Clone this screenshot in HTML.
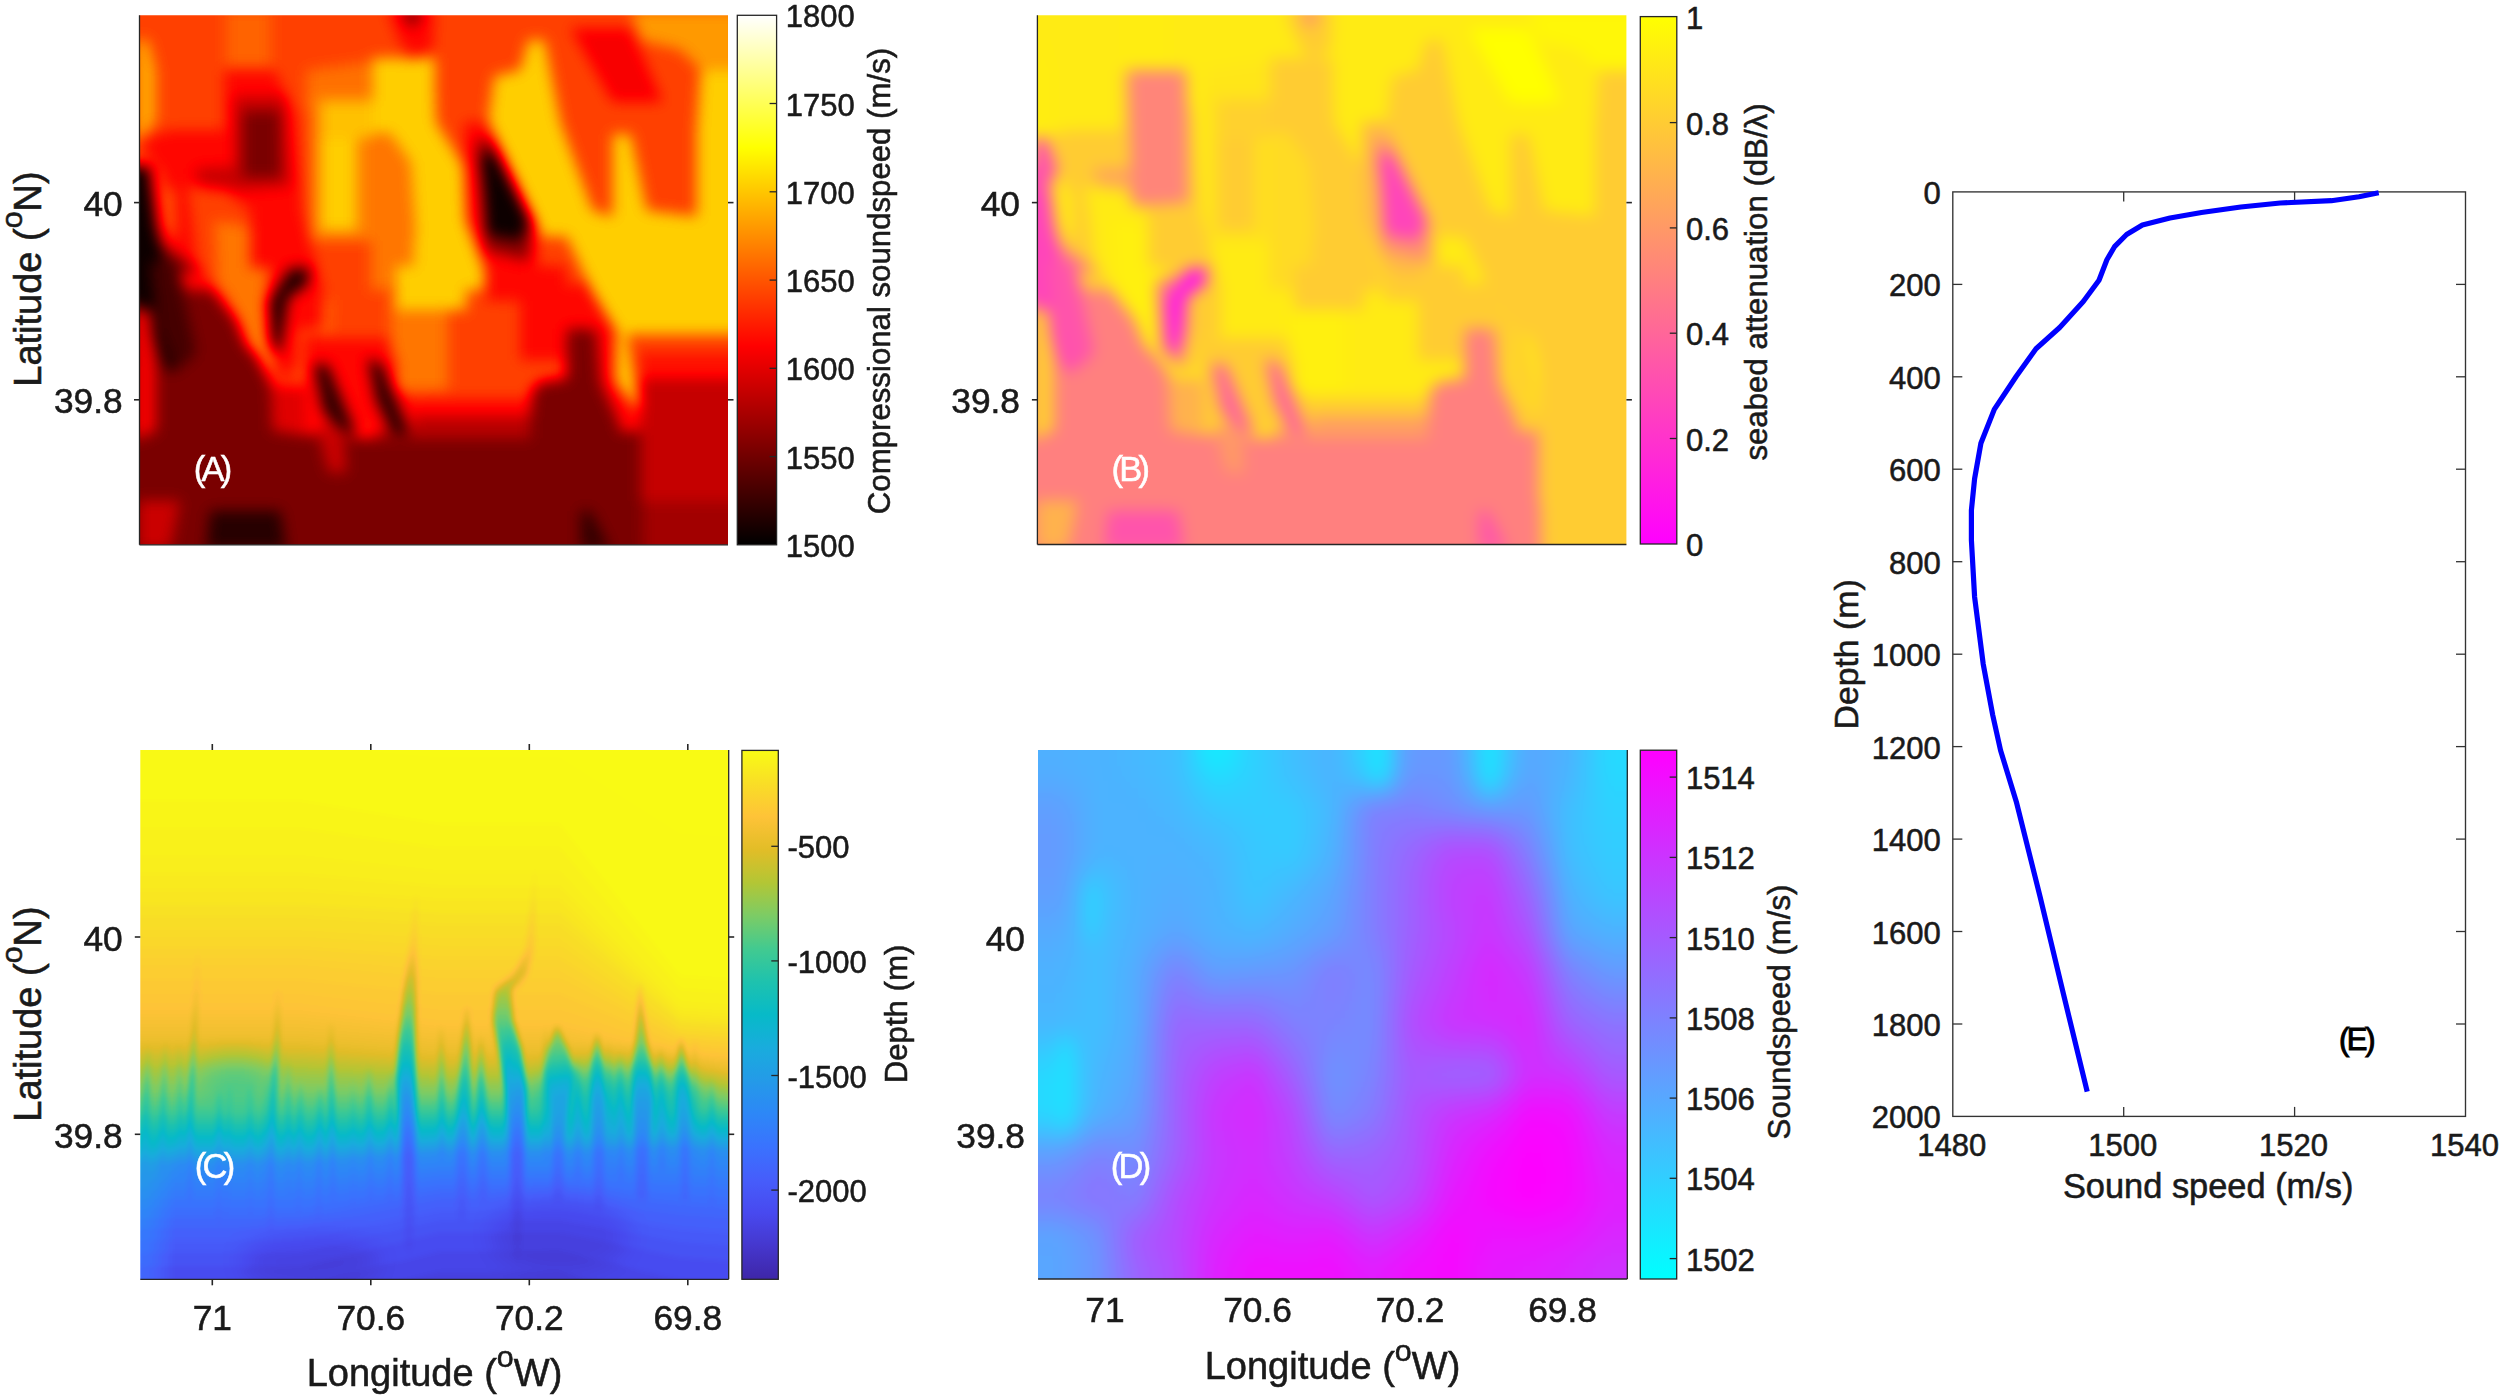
<!DOCTYPE html><html><head><meta charset="utf-8"><title>Figure</title>
<style>html,body{margin:0;padding:0;background:#fff;overflow:hidden}svg{display:block}text{font-family:"Liberation Sans", sans-serif}</style></head><body>
<svg width="2500" height="1396" viewBox="0 0 2500 1396">
<defs><filter id="fA" x="-5%" y="-5%" width="110%" height="110%" color-interpolation-filters="sRGB"><feGaussianBlur stdDeviation="7"/><feComponentTransfer><feFuncR type="table" tableValues="0.0000 0.3333 0.6667 1.0000 1.0000 1.0000 1.0000 1.0000 1.0000"/><feFuncG type="table" tableValues="0.0000 0.0000 0.0000 0.0000 0.3333 0.6667 1.0000 1.0000 1.0000"/><feFuncB type="table" tableValues="0.0000 0.0000 0.0000 0.0000 0.0000 0.0000 0.0000 0.5000 1.0000"/></feComponentTransfer></filter><filter id="fB" x="-5%" y="-5%" width="110%" height="110%" color-interpolation-filters="sRGB"><feGaussianBlur stdDeviation="7.5"/><feComponentTransfer><feFuncR type="table" tableValues="1 1"/><feFuncG type="table" tableValues="0 1"/><feFuncB type="table" tableValues="1 0"/></feComponentTransfer></filter><filter id="fC" x="-5%" y="-5%" width="110%" height="110%" color-interpolation-filters="sRGB"><feGaussianBlur stdDeviation="2.5"/><feComponentTransfer><feFuncR type="table" tableValues="0.2422 0.2691 0.2810 0.2755 0.2266 0.1780 0.1407 0.0964 0.0265 0.1170 0.2586 0.4859 0.7012 0.8877 0.9970 0.9763 0.9769"/><feFuncG type="table" tableValues="0.1504 0.2157 0.2871 0.3660 0.4471 0.5290 0.6023 0.6750 0.7290 0.7612 0.7917 0.8011 0.7747 0.7402 0.7659 0.8700 0.9839"/><feFuncB type="table" tableValues="0.6603 0.8050 0.9358 0.9829 0.9958 0.9682 0.9106 0.8648 0.7860 0.6820 0.5648 0.3966 0.2083 0.1544 0.2199 0.1503 0.0805"/></feComponentTransfer></filter><filter id="fD" x="-5%" y="-5%" width="110%" height="110%" color-interpolation-filters="sRGB"><feGaussianBlur stdDeviation="8 11"/><feComponentTransfer><feFuncR type="table" tableValues="0 1"/><feFuncG type="table" tableValues="1 0"/><feFuncB type="table" tableValues="1 1"/></feComponentTransfer></filter><linearGradient id="gA" x1="0" y1="1" x2="0" y2="0"><stop offset="0.0000" stop-color="#000000"/><stop offset="0.1250" stop-color="#550000"/><stop offset="0.2500" stop-color="#aa0000"/><stop offset="0.3750" stop-color="#ff0000"/><stop offset="0.5000" stop-color="#ff5500"/><stop offset="0.6250" stop-color="#ffaa00"/><stop offset="0.7500" stop-color="#ffff00"/><stop offset="0.8750" stop-color="#ffff80"/><stop offset="1.0000" stop-color="#ffffff"/></linearGradient><linearGradient id="gB" x1="0" y1="1" x2="0" y2="0"><stop offset="0.0000" stop-color="#ff00ff"/><stop offset="1.0000" stop-color="#ffff00"/></linearGradient><linearGradient id="gC" x1="0" y1="1" x2="0" y2="0"><stop offset="0.0000" stop-color="#3e26a8"/><stop offset="0.0625" stop-color="#4537cd"/><stop offset="0.1250" stop-color="#4849ef"/><stop offset="0.1875" stop-color="#465dfb"/><stop offset="0.2500" stop-color="#3a72fe"/><stop offset="0.3125" stop-color="#2d87f7"/><stop offset="0.3750" stop-color="#249ae8"/><stop offset="0.4375" stop-color="#19acdd"/><stop offset="0.5000" stop-color="#07bac8"/><stop offset="0.5625" stop-color="#1ec2ae"/><stop offset="0.6250" stop-color="#42ca90"/><stop offset="0.6875" stop-color="#7ccc65"/><stop offset="0.7500" stop-color="#b3c635"/><stop offset="0.8125" stop-color="#e2bd27"/><stop offset="0.8750" stop-color="#fec338"/><stop offset="0.9375" stop-color="#f9de26"/><stop offset="1.0000" stop-color="#f9fb15"/></linearGradient><linearGradient id="gD" x1="0" y1="1" x2="0" y2="0"><stop offset="0.0000" stop-color="#00ffff"/><stop offset="1.0000" stop-color="#ff00ff"/></linearGradient><clipPath id="clA"><rect x="139.5" y="15.3" width="588.5" height="529.5"/></clipPath><clipPath id="clB"><rect x="1037.4" y="15.3" width="589.0" height="529.2"/></clipPath><clipPath id="clC"><rect x="140.3" y="750.0" width="588.4" height="529.3"/></clipPath><clipPath id="clD"><rect x="1038.1" y="750.0" width="589.2" height="529.0"/></clipPath><linearGradient id="cgrad" gradientUnits="userSpaceOnUse" x1="0" y1="880" x2="0" y2="1280"><stop offset="0" stop-opacity="0.02"/><stop offset="0.175" stop-opacity="0.06"/><stop offset="0.30" stop-opacity="0.22"/><stop offset="0.425" stop-opacity="0.40"/><stop offset="0.5375" stop-opacity="0.50"/><stop offset="0.65" stop-opacity="0.50"/><stop offset="0.80" stop-opacity="0.28"/><stop offset="1" stop-opacity="0.05"/></linearGradient><filter id="bl12" x="-30%" y="-30%" width="160%" height="160%"><feGaussianBlur stdDeviation="12"/></filter><filter id="bl5" x="-30%" y="-30%" width="160%" height="160%"><feGaussianBlur stdDeviation="5"/></filter><filter id="bl2" x="-60%" y="-10%" width="220%" height="120%"><feGaussianBlur stdDeviation="1.6 3"/></filter><linearGradient id="dg0"><stop offset="0.0333" stop-color="#4f4f4f"/><stop offset="0.1000" stop-color="#4c4c4c"/><stop offset="0.1667" stop-color="#474747"/><stop offset="0.2333" stop-color="#404040"/><stop offset="0.3000" stop-color="#1f1f1f"/><stop offset="0.3667" stop-color="#2e2e2e"/><stop offset="0.4333" stop-color="#404040"/><stop offset="0.5000" stop-color="#4c4c4c"/><stop offset="0.5667" stop-color="#262626"/><stop offset="0.6333" stop-color="#666666"/><stop offset="0.7000" stop-color="#666666"/><stop offset="0.7667" stop-color="#262626"/><stop offset="0.8333" stop-color="#595959"/><stop offset="0.9000" stop-color="#4c4c4c"/><stop offset="0.9667" stop-color="#262626"/></linearGradient><linearGradient id="dg1"><stop offset="0.0333" stop-color="#525252"/><stop offset="0.1000" stop-color="#4c4c4c"/><stop offset="0.1667" stop-color="#484848"/><stop offset="0.2333" stop-color="#414141"/><stop offset="0.3000" stop-color="#232323"/><stop offset="0.3667" stop-color="#2f2f2f"/><stop offset="0.4333" stop-color="#3e3e3e"/><stop offset="0.5000" stop-color="#4c4c4c"/><stop offset="0.5667" stop-color="#343434"/><stop offset="0.6333" stop-color="#6a6a6a"/><stop offset="0.7000" stop-color="#686868"/><stop offset="0.7667" stop-color="#303030"/><stop offset="0.8333" stop-color="#5b5b5b"/><stop offset="0.9000" stop-color="#4a4a4a"/><stop offset="0.9667" stop-color="#272727"/></linearGradient><linearGradient id="dg2"><stop offset="0.0333" stop-color="#5a5a5a"/><stop offset="0.1000" stop-color="#4c4c4c"/><stop offset="0.1667" stop-color="#4a4a4a"/><stop offset="0.2333" stop-color="#444444"/><stop offset="0.3000" stop-color="#2e2e2e"/><stop offset="0.3667" stop-color="#313131"/><stop offset="0.4333" stop-color="#383838"/><stop offset="0.5000" stop-color="#4a4a4a"/><stop offset="0.5667" stop-color="#5b5b5b"/><stop offset="0.6333" stop-color="#757575"/><stop offset="0.7000" stop-color="#6d6d6d"/><stop offset="0.7667" stop-color="#4c4c4c"/><stop offset="0.8333" stop-color="#616161"/><stop offset="0.9000" stop-color="#454545"/><stop offset="0.9667" stop-color="#2b2b2b"/></linearGradient><linearGradient id="dg3"><stop offset="0.0333" stop-color="#616161"/><stop offset="0.1000" stop-color="#4c4c4c"/><stop offset="0.1667" stop-color="#4c4c4c"/><stop offset="0.2333" stop-color="#474747"/><stop offset="0.3000" stop-color="#383838"/><stop offset="0.3667" stop-color="#333333"/><stop offset="0.4333" stop-color="#333333"/><stop offset="0.5000" stop-color="#474747"/><stop offset="0.5667" stop-color="#808080"/><stop offset="0.6333" stop-color="#808080"/><stop offset="0.7000" stop-color="#747474"/><stop offset="0.7667" stop-color="#676767"/><stop offset="0.8333" stop-color="#666666"/><stop offset="0.9000" stop-color="#404040"/><stop offset="0.9667" stop-color="#2e2e2e"/></linearGradient><linearGradient id="dg4"><stop offset="0.0333" stop-color="#636363"/><stop offset="0.1000" stop-color="#4c4c4c"/><stop offset="0.1667" stop-color="#4c4c4c"/><stop offset="0.2333" stop-color="#4a4a4a"/><stop offset="0.3000" stop-color="#3f3f3f"/><stop offset="0.3667" stop-color="#353535"/><stop offset="0.4333" stop-color="#333333"/><stop offset="0.5000" stop-color="#4a4a4a"/><stop offset="0.5667" stop-color="#808080"/><stop offset="0.6333" stop-color="#8b8b8b"/><stop offset="0.7000" stop-color="#929292"/><stop offset="0.7667" stop-color="#8b8b8b"/><stop offset="0.8333" stop-color="#717171"/><stop offset="0.9000" stop-color="#404040"/><stop offset="0.9667" stop-color="#303030"/></linearGradient><linearGradient id="dg5"><stop offset="0.0333" stop-color="#656565"/><stop offset="0.1000" stop-color="#4c4c4c"/><stop offset="0.1667" stop-color="#4c4c4c"/><stop offset="0.2333" stop-color="#4c4c4c"/><stop offset="0.3000" stop-color="#464646"/><stop offset="0.3667" stop-color="#373737"/><stop offset="0.4333" stop-color="#333333"/><stop offset="0.5000" stop-color="#4c4c4c"/><stop offset="0.5667" stop-color="#808080"/><stop offset="0.6333" stop-color="#969696"/><stop offset="0.7000" stop-color="#afafaf"/><stop offset="0.7667" stop-color="#aeaeae"/><stop offset="0.8333" stop-color="#7c7c7c"/><stop offset="0.9000" stop-color="#404040"/><stop offset="0.9667" stop-color="#323232"/></linearGradient><linearGradient id="dg6"><stop offset="0.0333" stop-color="#646464"/><stop offset="0.1000" stop-color="#464646"/><stop offset="0.1667" stop-color="#4c4c4c"/><stop offset="0.2333" stop-color="#4e4e4e"/><stop offset="0.3000" stop-color="#494949"/><stop offset="0.3667" stop-color="#383838"/><stop offset="0.4333" stop-color="#393939"/><stop offset="0.5000" stop-color="#505050"/><stop offset="0.5667" stop-color="#808080"/><stop offset="0.6333" stop-color="#9b9b9b"/><stop offset="0.7000" stop-color="#bababa"/><stop offset="0.7667" stop-color="#bcbcbc"/><stop offset="0.8333" stop-color="#878787"/><stop offset="0.9000" stop-color="#444444"/><stop offset="0.9667" stop-color="#353535"/></linearGradient><linearGradient id="dg7"><stop offset="0.0333" stop-color="#626262"/><stop offset="0.1000" stop-color="#3d3d3d"/><stop offset="0.1667" stop-color="#4c4c4c"/><stop offset="0.2333" stop-color="#505050"/><stop offset="0.3000" stop-color="#4b4b4b"/><stop offset="0.3667" stop-color="#383838"/><stop offset="0.4333" stop-color="#424242"/><stop offset="0.5000" stop-color="#565656"/><stop offset="0.5667" stop-color="#808080"/><stop offset="0.6333" stop-color="#9d9d9d"/><stop offset="0.7000" stop-color="#bdbdbd"/><stop offset="0.7667" stop-color="#c3c3c3"/><stop offset="0.8333" stop-color="#939393"/><stop offset="0.9000" stop-color="#494949"/><stop offset="0.9667" stop-color="#373737"/></linearGradient><linearGradient id="dg8"><stop offset="0.0333" stop-color="#5f5f5f"/><stop offset="0.1000" stop-color="#393939"/><stop offset="0.1667" stop-color="#4c4c4c"/><stop offset="0.2333" stop-color="#535353"/><stop offset="0.3000" stop-color="#4c4c4c"/><stop offset="0.3667" stop-color="#3b3b3b"/><stop offset="0.4333" stop-color="#4a4a4a"/><stop offset="0.5000" stop-color="#5b5b5b"/><stop offset="0.5667" stop-color="#808080"/><stop offset="0.6333" stop-color="#9e9e9e"/><stop offset="0.7000" stop-color="#bebebe"/><stop offset="0.7667" stop-color="#c8c8c8"/><stop offset="0.8333" stop-color="#9d9d9d"/><stop offset="0.9000" stop-color="#4f4f4f"/><stop offset="0.9667" stop-color="#3c3c3c"/></linearGradient><linearGradient id="dg9"><stop offset="0.0333" stop-color="#595959"/><stop offset="0.1000" stop-color="#3d3d3d"/><stop offset="0.1667" stop-color="#4c4c4c"/><stop offset="0.2333" stop-color="#565656"/><stop offset="0.3000" stop-color="#4c4c4c"/><stop offset="0.3667" stop-color="#424242"/><stop offset="0.4333" stop-color="#4f4f4f"/><stop offset="0.5000" stop-color="#5e5e5e"/><stop offset="0.5667" stop-color="#808080"/><stop offset="0.6333" stop-color="#9e9e9e"/><stop offset="0.7000" stop-color="#bbbbbb"/><stop offset="0.7667" stop-color="#cacaca"/><stop offset="0.8333" stop-color="#a6a6a6"/><stop offset="0.9000" stop-color="#545454"/><stop offset="0.9667" stop-color="#454545"/></linearGradient><linearGradient id="dg10"><stop offset="0.0333" stop-color="#545454"/><stop offset="0.1000" stop-color="#404040"/><stop offset="0.1667" stop-color="#4d4d4d"/><stop offset="0.2333" stop-color="#5b5b5b"/><stop offset="0.3000" stop-color="#4e4e4e"/><stop offset="0.3667" stop-color="#494949"/><stop offset="0.4333" stop-color="#555555"/><stop offset="0.5000" stop-color="#636363"/><stop offset="0.5667" stop-color="#7f7f7f"/><stop offset="0.6333" stop-color="#9f9f9f"/><stop offset="0.7000" stop-color="#b8b8b8"/><stop offset="0.7667" stop-color="#cdcdcd"/><stop offset="0.8333" stop-color="#afafaf"/><stop offset="0.9000" stop-color="#5b5b5b"/><stop offset="0.9667" stop-color="#4e4e4e"/></linearGradient><linearGradient id="dg11"><stop offset="0.0333" stop-color="#505050"/><stop offset="0.1000" stop-color="#404040"/><stop offset="0.1667" stop-color="#505050"/><stop offset="0.2333" stop-color="#6c6c6c"/><stop offset="0.3000" stop-color="#565656"/><stop offset="0.3667" stop-color="#565656"/><stop offset="0.4333" stop-color="#5f5f5f"/><stop offset="0.5000" stop-color="#727272"/><stop offset="0.5667" stop-color="#797979"/><stop offset="0.6333" stop-color="#a2a2a2"/><stop offset="0.7000" stop-color="#bbbbbb"/><stop offset="0.7667" stop-color="#d2d2d2"/><stop offset="0.8333" stop-color="#bababa"/><stop offset="0.9000" stop-color="#6c6c6c"/><stop offset="0.9667" stop-color="#595959"/></linearGradient><linearGradient id="dg12"><stop offset="0.0333" stop-color="#4d4d4d"/><stop offset="0.1000" stop-color="#404040"/><stop offset="0.1667" stop-color="#535353"/><stop offset="0.2333" stop-color="#7c7c7c"/><stop offset="0.3000" stop-color="#5f5f5f"/><stop offset="0.3667" stop-color="#636363"/><stop offset="0.4333" stop-color="#696969"/><stop offset="0.5000" stop-color="#818181"/><stop offset="0.5667" stop-color="#747474"/><stop offset="0.6333" stop-color="#a5a5a5"/><stop offset="0.7000" stop-color="#bfbfbf"/><stop offset="0.7667" stop-color="#d8d8d8"/><stop offset="0.8333" stop-color="#c5c5c5"/><stop offset="0.9000" stop-color="#7c7c7c"/><stop offset="0.9667" stop-color="#646464"/></linearGradient><linearGradient id="dg13"><stop offset="0.0333" stop-color="#4b4b4b"/><stop offset="0.1000" stop-color="#404040"/><stop offset="0.1667" stop-color="#545454"/><stop offset="0.2333" stop-color="#878787"/><stop offset="0.3000" stop-color="#707070"/><stop offset="0.3667" stop-color="#747474"/><stop offset="0.4333" stop-color="#717171"/><stop offset="0.5000" stop-color="#828282"/><stop offset="0.5667" stop-color="#737373"/><stop offset="0.6333" stop-color="#a9a9a9"/><stop offset="0.7000" stop-color="#c3c3c3"/><stop offset="0.7667" stop-color="#d7d7d7"/><stop offset="0.8333" stop-color="#cccccc"/><stop offset="0.9000" stop-color="#888888"/><stop offset="0.9667" stop-color="#717171"/></linearGradient><linearGradient id="dg14"><stop offset="0.0333" stop-color="#494949"/><stop offset="0.1000" stop-color="#404040"/><stop offset="0.1667" stop-color="#545454"/><stop offset="0.2333" stop-color="#8f8f8f"/><stop offset="0.3000" stop-color="#848484"/><stop offset="0.3667" stop-color="#868686"/><stop offset="0.4333" stop-color="#787878"/><stop offset="0.5000" stop-color="#7e7e7e"/><stop offset="0.5667" stop-color="#737373"/><stop offset="0.6333" stop-color="#aeaeae"/><stop offset="0.7000" stop-color="#c7c7c7"/><stop offset="0.7667" stop-color="#d4d4d4"/><stop offset="0.8333" stop-color="#d2d2d2"/><stop offset="0.9000" stop-color="#939393"/><stop offset="0.9667" stop-color="#7e7e7e"/></linearGradient><linearGradient id="dg15"><stop offset="0.0333" stop-color="#484848"/><stop offset="0.1000" stop-color="#404040"/><stop offset="0.1667" stop-color="#545454"/><stop offset="0.2333" stop-color="#989898"/><stop offset="0.3000" stop-color="#979797"/><stop offset="0.3667" stop-color="#979797"/><stop offset="0.4333" stop-color="#7f7f7f"/><stop offset="0.5000" stop-color="#7b7b7b"/><stop offset="0.5667" stop-color="#737373"/><stop offset="0.6333" stop-color="#b2b2b2"/><stop offset="0.7000" stop-color="#cccccc"/><stop offset="0.7667" stop-color="#d1d1d1"/><stop offset="0.8333" stop-color="#d8d8d8"/><stop offset="0.9000" stop-color="#9d9d9d"/><stop offset="0.9667" stop-color="#8b8b8b"/></linearGradient><linearGradient id="dg16"><stop offset="0.0333" stop-color="#3d3d3d"/><stop offset="0.1000" stop-color="#424242"/><stop offset="0.1667" stop-color="#565656"/><stop offset="0.2333" stop-color="#9b9b9b"/><stop offset="0.3000" stop-color="#a5a5a5"/><stop offset="0.3667" stop-color="#a9a9a9"/><stop offset="0.4333" stop-color="#898989"/><stop offset="0.5000" stop-color="#767676"/><stop offset="0.5667" stop-color="#757575"/><stop offset="0.6333" stop-color="#aeaeae"/><stop offset="0.7000" stop-color="#bcbcbc"/><stop offset="0.7667" stop-color="#bfbfbf"/><stop offset="0.8333" stop-color="#d6d6d6"/><stop offset="0.9000" stop-color="#adadad"/><stop offset="0.9667" stop-color="#949494"/></linearGradient><linearGradient id="dg17"><stop offset="0.0333" stop-color="#313131"/><stop offset="0.1000" stop-color="#454545"/><stop offset="0.1667" stop-color="#585858"/><stop offset="0.2333" stop-color="#9c9c9c"/><stop offset="0.3000" stop-color="#b3b3b3"/><stop offset="0.3667" stop-color="#bbbbbb"/><stop offset="0.4333" stop-color="#949494"/><stop offset="0.5000" stop-color="#707070"/><stop offset="0.5667" stop-color="#787878"/><stop offset="0.6333" stop-color="#aaaaaa"/><stop offset="0.7000" stop-color="#aaaaaa"/><stop offset="0.7667" stop-color="#ababab"/><stop offset="0.8333" stop-color="#d4d4d4"/><stop offset="0.9000" stop-color="#bdbdbd"/><stop offset="0.9667" stop-color="#9d9d9d"/></linearGradient><linearGradient id="dg18"><stop offset="0.0333" stop-color="#262626"/><stop offset="0.1000" stop-color="#484848"/><stop offset="0.1667" stop-color="#595959"/><stop offset="0.2333" stop-color="#9e9e9e"/><stop offset="0.3000" stop-color="#c0c0c0"/><stop offset="0.3667" stop-color="#cccccc"/><stop offset="0.4333" stop-color="#9f9f9f"/><stop offset="0.5000" stop-color="#6b6b6b"/><stop offset="0.5667" stop-color="#7b7b7b"/><stop offset="0.6333" stop-color="#a6a6a6"/><stop offset="0.7000" stop-color="#9b9b9b"/><stop offset="0.7667" stop-color="#9b9b9b"/><stop offset="0.8333" stop-color="#d2d2d2"/><stop offset="0.9000" stop-color="#cdcdcd"/><stop offset="0.9667" stop-color="#a7a7a7"/></linearGradient><linearGradient id="dg19"><stop offset="0.0333" stop-color="#262626"/><stop offset="0.1000" stop-color="#4a4a4a"/><stop offset="0.1667" stop-color="#5d5d5d"/><stop offset="0.2333" stop-color="#9e9e9e"/><stop offset="0.3000" stop-color="#c5c5c5"/><stop offset="0.3667" stop-color="#d2d2d2"/><stop offset="0.4333" stop-color="#aaaaaa"/><stop offset="0.5000" stop-color="#6f6f6f"/><stop offset="0.5667" stop-color="#7f7f7f"/><stop offset="0.6333" stop-color="#a9a9a9"/><stop offset="0.7000" stop-color="#b0b0b0"/><stop offset="0.7667" stop-color="#b6b6b6"/><stop offset="0.8333" stop-color="#e3e3e3"/><stop offset="0.9000" stop-color="#dedede"/><stop offset="0.9667" stop-color="#b5b5b5"/></linearGradient><linearGradient id="dg20"><stop offset="0.0333" stop-color="#262626"/><stop offset="0.1000" stop-color="#4c4c4c"/><stop offset="0.1667" stop-color="#606060"/><stop offset="0.2333" stop-color="#9e9e9e"/><stop offset="0.3000" stop-color="#cbcbcb"/><stop offset="0.3667" stop-color="#d7d7d7"/><stop offset="0.4333" stop-color="#b5b5b5"/><stop offset="0.5000" stop-color="#727272"/><stop offset="0.5667" stop-color="#838383"/><stop offset="0.6333" stop-color="#adadad"/><stop offset="0.7000" stop-color="#c6c6c6"/><stop offset="0.7667" stop-color="#d2d2d2"/><stop offset="0.8333" stop-color="#f3f3f3"/><stop offset="0.9000" stop-color="#eeeeee"/><stop offset="0.9667" stop-color="#c3c3c3"/></linearGradient><linearGradient id="dg21"><stop offset="0.0333" stop-color="#3b3b3b"/><stop offset="0.1000" stop-color="#5d5d5d"/><stop offset="0.1667" stop-color="#676767"/><stop offset="0.2333" stop-color="#9e9e9e"/><stop offset="0.3000" stop-color="#cacaca"/><stop offset="0.3667" stop-color="#d6d6d6"/><stop offset="0.4333" stop-color="#bababa"/><stop offset="0.5000" stop-color="#7f7f7f"/><stop offset="0.5667" stop-color="#8d8d8d"/><stop offset="0.6333" stop-color="#adadad"/><stop offset="0.7000" stop-color="#d0d0d0"/><stop offset="0.7667" stop-color="#e1e1e1"/><stop offset="0.8333" stop-color="#fafafa"/><stop offset="0.9000" stop-color="#f4f4f4"/><stop offset="0.9667" stop-color="#cdcdcd"/></linearGradient><linearGradient id="dg22"><stop offset="0.0333" stop-color="#575757"/><stop offset="0.1000" stop-color="#747474"/><stop offset="0.1667" stop-color="#6f6f6f"/><stop offset="0.2333" stop-color="#9e9e9e"/><stop offset="0.3000" stop-color="#c8c8c8"/><stop offset="0.3667" stop-color="#d3d3d3"/><stop offset="0.4333" stop-color="#bdbdbd"/><stop offset="0.5000" stop-color="#909090"/><stop offset="0.5667" stop-color="#989898"/><stop offset="0.6333" stop-color="#adadad"/><stop offset="0.7000" stop-color="#d6d6d6"/><stop offset="0.7667" stop-color="#ececec"/><stop offset="0.8333" stop-color="#fdfdfd"/><stop offset="0.9000" stop-color="#f6f6f6"/><stop offset="0.9667" stop-color="#d5d5d5"/></linearGradient><linearGradient id="dg23"><stop offset="0.0333" stop-color="#6b6b6b"/><stop offset="0.1000" stop-color="#828282"/><stop offset="0.1667" stop-color="#757575"/><stop offset="0.2333" stop-color="#a2a2a2"/><stop offset="0.3000" stop-color="#c8c8c8"/><stop offset="0.3667" stop-color="#d3d3d3"/><stop offset="0.4333" stop-color="#c2c2c2"/><stop offset="0.5000" stop-color="#a1a1a1"/><stop offset="0.5667" stop-color="#a0a0a0"/><stop offset="0.6333" stop-color="#afafaf"/><stop offset="0.7000" stop-color="#dbdbdb"/><stop offset="0.7667" stop-color="#f3f3f3"/><stop offset="0.8333" stop-color="#ffffff"/><stop offset="0.9000" stop-color="#f7f7f7"/><stop offset="0.9667" stop-color="#dadada"/></linearGradient><linearGradient id="dg24"><stop offset="0.0333" stop-color="#767676"/><stop offset="0.1000" stop-color="#888888"/><stop offset="0.1667" stop-color="#7b7b7b"/><stop offset="0.2333" stop-color="#ababab"/><stop offset="0.3000" stop-color="#cacaca"/><stop offset="0.3667" stop-color="#d6d6d6"/><stop offset="0.4333" stop-color="#c7c7c7"/><stop offset="0.5000" stop-color="#b1b1b1"/><stop offset="0.5667" stop-color="#a3a3a3"/><stop offset="0.6333" stop-color="#b4b4b4"/><stop offset="0.7000" stop-color="#e1e1e1"/><stop offset="0.7667" stop-color="#f5f5f5"/><stop offset="0.8333" stop-color="#ffffff"/><stop offset="0.9000" stop-color="#f7f7f7"/><stop offset="0.9667" stop-color="#dedede"/></linearGradient><linearGradient id="dg25"><stop offset="0.0333" stop-color="#7d7d7d"/><stop offset="0.1000" stop-color="#8a8a8a"/><stop offset="0.1667" stop-color="#828282"/><stop offset="0.2333" stop-color="#b3b3b3"/><stop offset="0.3000" stop-color="#cdcdcd"/><stop offset="0.3667" stop-color="#dadada"/><stop offset="0.4333" stop-color="#cdcdcd"/><stop offset="0.5000" stop-color="#c2c2c2"/><stop offset="0.5667" stop-color="#a8a8a8"/><stop offset="0.6333" stop-color="#bababa"/><stop offset="0.7000" stop-color="#e7e7e7"/><stop offset="0.7667" stop-color="#f7f7f7"/><stop offset="0.8333" stop-color="#fefefe"/><stop offset="0.9000" stop-color="#f6f6f6"/><stop offset="0.9667" stop-color="#e0e0e0"/></linearGradient><linearGradient id="dg26"><stop offset="0.0333" stop-color="#6d6d6d"/><stop offset="0.1000" stop-color="#7c7c7c"/><stop offset="0.1667" stop-color="#929292"/><stop offset="0.2333" stop-color="#b5b5b5"/><stop offset="0.3000" stop-color="#d2d2d2"/><stop offset="0.3667" stop-color="#dfdfdf"/><stop offset="0.4333" stop-color="#d6d6d6"/><stop offset="0.5000" stop-color="#d2d2d2"/><stop offset="0.5667" stop-color="#b9b9b9"/><stop offset="0.6333" stop-color="#cccccc"/><stop offset="0.7000" stop-color="#eeeeee"/><stop offset="0.7667" stop-color="#f1f1f1"/><stop offset="0.8333" stop-color="#f5f5f5"/><stop offset="0.9000" stop-color="#efefef"/><stop offset="0.9667" stop-color="#dddddd"/></linearGradient><linearGradient id="dg27"><stop offset="0.0333" stop-color="#5c5c5c"/><stop offset="0.1000" stop-color="#6e6e6e"/><stop offset="0.1667" stop-color="#a3a3a3"/><stop offset="0.2333" stop-color="#b7b7b7"/><stop offset="0.3000" stop-color="#d8d8d8"/><stop offset="0.3667" stop-color="#e5e5e5"/><stop offset="0.4333" stop-color="#dfdfdf"/><stop offset="0.5000" stop-color="#e3e3e3"/><stop offset="0.5667" stop-color="#c9c9c9"/><stop offset="0.6333" stop-color="#dddddd"/><stop offset="0.7000" stop-color="#f6f6f6"/><stop offset="0.7667" stop-color="#ececec"/><stop offset="0.8333" stop-color="#ececec"/><stop offset="0.9000" stop-color="#e7e7e7"/><stop offset="0.9667" stop-color="#d9d9d9"/></linearGradient><linearGradient id="dg28"><stop offset="0.0333" stop-color="#595959"/><stop offset="0.1000" stop-color="#6b6b6b"/><stop offset="0.1667" stop-color="#a1a1a1"/><stop offset="0.2333" stop-color="#b6b6b6"/><stop offset="0.3000" stop-color="#dcdcdc"/><stop offset="0.3667" stop-color="#ebebeb"/><stop offset="0.4333" stop-color="#e7e7e7"/><stop offset="0.5000" stop-color="#ebebeb"/><stop offset="0.5667" stop-color="#d6d6d6"/><stop offset="0.6333" stop-color="#e7e7e7"/><stop offset="0.7000" stop-color="#f7f7f7"/><stop offset="0.7667" stop-color="#e9e9e9"/><stop offset="0.8333" stop-color="#e7e7e7"/><stop offset="0.9000" stop-color="#e0e0e0"/><stop offset="0.9667" stop-color="#d4d4d4"/></linearGradient><linearGradient id="dg29"><stop offset="0.0333" stop-color="#595959"/><stop offset="0.1000" stop-color="#6b6b6b"/><stop offset="0.1667" stop-color="#9b9b9b"/><stop offset="0.2333" stop-color="#b3b3b3"/><stop offset="0.3000" stop-color="#dfdfdf"/><stop offset="0.3667" stop-color="#f1f1f1"/><stop offset="0.4333" stop-color="#f0f0f0"/><stop offset="0.5000" stop-color="#f1f1f1"/><stop offset="0.5667" stop-color="#e2e2e2"/><stop offset="0.6333" stop-color="#f0f0f0"/><stop offset="0.7000" stop-color="#f7f7f7"/><stop offset="0.7667" stop-color="#e6e6e6"/><stop offset="0.8333" stop-color="#e2e2e2"/><stop offset="0.9000" stop-color="#dadada"/><stop offset="0.9667" stop-color="#cecece"/></linearGradient></defs>
<rect width="2500" height="1396" fill="#fff"/><g fill="#1a1a1a">
<g clip-path="url(#clA)"><g filter="url(#fA)">
<rect x="99.5" y="-24.7" width="668.5" height="609.5" fill="#787878"/><polygon points="118.0,266.0 196.2,266.0 220.3,300.1 250.3,336.2 270.4,374.3 274.4,430.4 306.5,433.5 356.6,437.5 491.0,436.5 491.0,560.8 118.0,560.8" fill="#2e2e2e"/><polygon points="396.0,436.5 528.4,436.5 532.4,390.3 540.4,382.3 566.5,378.3 566.5,328.2 596.6,328.2 612.6,382.3 620.6,430.4 640.7,430.4 644.7,560.8 396.0,560.8" fill="#2e2e2e"/><polygon points="375.9,398.4 530.4,398.4 530.4,418.4 375.9,418.4" fill="#626262"/><polygon points="375.9,416.4 530.4,416.4 530.4,438.5 375.9,438.5" fill="#454545"/><polygon points="640.7,378.3 761.0,378.3 761.0,500.6 640.7,500.6" fill="#4a4a4a"/><polygon points="642.7,500.6 761.0,500.6 761.0,560.8 643.7,560.8" fill="#3d3d3d"/><polygon points="638.7,352.2 761.0,352.2 761.0,378.3 640.7,378.3" fill="#666666"/><polygon points="136.0,40.1 148.1,40.1 156.1,70.2 156.1,120.3 140.0,142.4 136.0,142.4" fill="#9e9e9e"/><polygon points="226.3,10.0 270.4,10.0 270.4,66.2 226.3,66.2" fill="#858585"/><polygon points="224.3,70.2 274.4,70.2 296.5,114.3 302.5,210.6 250.3,210.6 224.3,190.5" fill="#626262"/><polygon points="170.1,130.3 224.3,130.3 224.3,190.5 206.2,190.5 196.2,186.5 170.1,186.5" fill="#626262"/><polygon points="138.0,140.4 170.1,130.3 182.1,150.4 190.2,210.6 196.2,260.7 214.2,290.0 186.2,290.0 162.1,230.6 164.1,176.5" fill="#626262"/><polygon points="250.3,210.6 302.5,210.6 322.5,290.0 250.3,290.0" fill="#626262"/><polygon points="234.3,96.2 284.4,96.2 290.4,186.5 238.3,190.5 196.2,182.5 196.2,168.4 234.3,166.4" fill="#4a4a4a"/><polygon points="242.7,111.3 280.4,111.3 280.4,177.5 242.7,177.5" fill="#2e2e2e"/><polygon points="100.0,172.0 142.0,180.0 163.0,244.0 200.0,272.0 100.0,272.0" fill="#2e2e2e"/><polygon points="100.0,166.0 150.0,166.0 158.0,234.0 173.0,296.0 192.0,358.0 168.0,372.0 146.0,318.0 100.0,258.0" fill="#050505"/><polygon points="165.1,186.5 174.1,190.5 176.1,240.6 166.1,226.6" fill="#858585"/><polygon points="214.2,220.6 250.3,226.6 250.3,290.0 218.2,290.0" fill="#8c8c8c"/><polygon points="288.4,268.7 304.5,268.7 310.5,290.0 282.4,290.0" fill="#1f1f1f"/><polygon points="306.5,70.2 380.7,60.1 380.7,110.3 306.5,110.3" fill="#8a8a8a"/><polygon points="310.5,94.2 370.7,94.2 370.7,240.6 310.5,240.6" fill="#8f8f8f"/><polygon points="320.5,106.3 356.6,106.3 356.6,230.6 320.5,230.6" fill="#adadad"/><polygon points="320.9,101.3 380.7,101.3 380.7,138.4 320.9,138.4" fill="#a8a8a8"/><polygon points="372.7,58.1 434.9,58.1 434.9,122.3 458.9,162.4 466.9,230.6 480.0,260.7 480.0,290.0 410.8,290.0 414.8,230.6 410.8,162.4 390.7,134.3 372.7,130.3" fill="#adadad"/><polygon points="370.7,134.3 390.7,134.3 410.8,162.4 414.8,290.0 370.7,290.0" fill="#8c8c8c"/><polygon points="386.7,8.0 434.9,8.0 432.8,50.1 410.8,60.1 396.7,36.1" fill="#626262"/><polygon points="398.8,8.0 424.8,8.0 412.8,30.1" fill="#333333"/><polygon points="400.0,60.1 434.1,60.1 436.1,122.3 466.2,170.4 466.2,220.6 484.2,270.7 484.2,290.0 420.1,290.0 412.0,162.4 400.0,134.3" fill="#adadad"/><polygon points="464.2,122.3 488.2,122.3 536.4,226.6 538.4,280.8 488.2,270.7 466.2,220.6 464.2,170.4" fill="#616161"/><polygon points="476.2,140.4 492.3,140.4 532.4,222.6 528.4,260.7 486.2,250.7" fill="#333333"/><polygon points="480.2,154.4 494.3,154.4 528.4,220.6 520.3,240.6 486.2,234.6 484.2,190.5" fill="#050505"/><polygon points="494.3,76.2 520.3,70.2 528.4,40.1 544.4,40.1 560.4,122.3 592.5,210.6 612.6,216.6 612.6,134.3 630.6,134.3 646.7,210.6 696.8,216.6 696.8,130.3 700.8,70.2 728.9,66.2 741.0,66.2 741.0,300.8 596.6,300.8 566.5,236.6 540.4,236.6 538.4,226.6 488.2,122.3" fill="#adadad"/><polygon points="630.6,10.0 741.0,10.0 741.0,70.2 700.8,70.2 680.8,50.1 640.7,40.1" fill="#999999"/><polygon points="570.5,28.1 630.6,28.1 662.7,102.3 612.6,102.3" fill="#5d5d5d"/><polygon points="486.2,270.7 538.4,280.8 548.4,300.8 486.2,300.8" fill="#626262"/><polygon points="150.0,262.0 176.0,262.0 196.0,352.0 176.0,372.0 158.0,330.0" fill="#1a1a1a"/><polygon points="134.0,310.1 150.1,310.1 156.1,370.3 156.1,430.4 134.0,440.5" fill="#5c5c5c"/><polygon points="214.2,268.0 270.4,268.0 264.4,300.1 268.4,344.2 276.4,376.3 246.3,344.2 229.3,302.1" fill="#8c8c8c"/><polygon points="286.4,290.1 322.5,282.0 322.5,336.2 302.5,338.2 300.5,370.3 270.4,374.3 278.4,358.2 284.4,338.2" fill="#626262"/><polygon points="270.4,378.3 304.5,378.3 306.5,430.4 272.4,430.4" fill="#545454"/><polygon points="290.4,268.0 310.5,268.0 306.5,286.0 288.4,298.1 282.4,340.2 278.4,358.2 270.4,340.2 268.4,300.1 282.4,280.0" fill="#0d0d0d"/><polygon points="302.5,338.2 388.7,338.2 414.8,430.4 306.5,430.4" fill="#626262"/><polygon points="313.5,364.3 327.6,364.3 356.6,434.5 340.6,434.5 322.5,410.4" fill="#121212"/><polygon points="367.7,358.2 381.7,364.3 410.8,434.5 391.7,434.5 375.7,400.4" fill="#121212"/><polygon points="316.5,426.4 342.6,426.4 346.6,472.6 328.6,472.6" fill="#4c4c4c"/><polygon points="390.7,294.1 447.9,294.1 447.9,388.3 410.8,392.3 390.7,350.2" fill="#8c8c8c"/><polygon points="138.0,500.6 180.1,500.6 170.1,550.0 138.0,550.0" fill="#4c4c4c"/><polygon points="210.2,510.7 280.4,510.7 286.4,550.0 206.2,550.0" fill="#0f0f0f"/><polygon points="396.0,266.0 466.2,266.0 466.2,310.1 396.0,310.1" fill="#adadad"/><polygon points="396.0,310.1 446.1,310.1 446.1,390.3 396.0,390.3" fill="#8c8c8c"/><polygon points="520.3,266.0 566.5,266.0 566.5,360.3 520.3,360.3" fill="#626262"/><polygon points="566.5,286.0 586.5,282.0 614.6,330.2 610.6,378.3 624.6,398.4 640.7,414.4 640.7,430.4 620.6,426.4 600.6,382.3 596.6,330.2 566.5,326.2" fill="#626262"/><polygon points="586.5,266.0 761.0,266.0 761.0,334.2 618.6,334.2 600.6,306.1" fill="#adadad"/><polygon points="616.6,334.2 626.6,334.2 638.7,410.4 626.6,394.3 616.6,382.3" fill="#adadad"/><polygon points="580.5,510.7 590.5,510.7 610.6,550.0 580.5,550.0" fill="#141414"/><polyline fill="none" stroke="#9e9e9e" stroke-width="3" points="250.0,337.8 272.9,382.5 300.4,384.8 301.6,332.1 326.8,331.0 327.9,300.0"/>
</g></g>
<g clip-path="url(#clB)"><g filter="url(#fB)">
<rect x="997.4" y="-24.7" width="669.0" height="609.2" fill="#ebebeb"/><polygon points="1015.9,266.0 1094.1,266.0 1118.2,300.1 1148.2,336.2 1168.3,374.3 1172.3,430.4 1204.4,433.5 1254.5,437.5 1388.9,436.5 1388.9,560.8 1015.9,560.8" fill="#808080"/><polygon points="1293.9,436.5 1426.3,436.5 1430.3,390.3 1438.3,382.3 1464.4,378.3 1464.4,328.2 1494.5,328.2 1510.5,382.3 1518.5,430.4 1538.6,430.4 1542.6,560.8 1293.9,560.8" fill="#808080"/><polygon points="1273.8,398.4 1428.3,398.4 1428.3,418.4 1273.8,418.4" fill="#cccccc"/><polygon points="1273.8,416.4 1428.3,416.4 1428.3,438.5 1273.8,438.5" fill="#9e9e9e"/><polygon points="1538.6,378.3 1658.9,378.3 1658.9,500.6 1538.6,500.6" fill="#cccccc"/><polygon points="1540.6,500.6 1658.9,500.6 1658.9,560.8 1541.6,560.8" fill="#cccccc"/><polygon points="1536.6,352.2 1658.9,352.2 1658.9,378.3 1538.6,378.3" fill="#cccccc"/><polygon points="1033.9,40.1 1046.0,40.1 1054.0,70.2 1054.0,120.3 1037.9,142.4 1033.9,142.4" fill="#ededed"/><polygon points="1124.2,10.0 1168.3,10.0 1168.3,66.2 1124.2,66.2" fill="#ededed"/><polygon points="1122.2,70.2 1172.3,70.2 1194.4,114.3 1200.4,210.6 1148.2,210.6 1122.2,190.5" fill="#cccccc"/><polygon points="1068.0,130.3 1122.2,130.3 1122.2,190.5 1104.1,190.5 1094.1,186.5 1068.0,186.5" fill="#cccccc"/><polygon points="1035.9,140.4 1068.0,130.3 1080.0,150.4 1088.1,210.6 1094.1,260.7 1112.1,290.0 1084.1,290.0 1060.0,230.6 1062.0,176.5" fill="#cccccc"/><polygon points="1148.2,210.6 1200.4,210.6 1220.4,290.0 1148.2,290.0" fill="#cccccc"/><polygon points="1132.2,96.2 1182.3,96.2 1188.3,186.5 1136.2,190.5 1094.1,182.5 1094.1,168.4 1132.2,166.4" fill="#a8a8a8"/><polygon points="1140.6,111.3 1178.3,111.3 1178.3,177.5 1140.6,177.5" fill="#808080"/><polygon points="997.9,172.0 1039.9,180.0 1060.9,244.0 1097.9,272.0 997.9,272.0" fill="#808080"/><polygon points="997.9,166.0 1047.9,166.0 1055.9,234.0 1070.9,296.0 1089.9,358.0 1065.9,372.0 1043.9,318.0 997.9,258.0" fill="#454545"/><polygon points="1063.0,186.5 1072.0,190.5 1074.0,240.6 1064.0,226.6" fill="#ededed"/><polygon points="1112.1,220.6 1148.2,226.6 1148.2,290.0 1116.1,290.0" fill="#f0f0f0"/><polygon points="1186.3,268.7 1202.4,268.7 1208.4,290.0 1180.3,290.0" fill="#5c5c5c"/><polygon points="1204.4,70.2 1278.6,60.1 1278.6,110.3 1204.4,110.3" fill="#e6e6e6"/><polygon points="1208.4,94.2 1268.6,94.2 1268.6,240.6 1208.4,240.6" fill="#e0e0e0"/><polygon points="1218.4,106.3 1254.5,106.3 1254.5,230.6 1218.4,230.6" fill="#cccccc"/><polygon points="1218.8,101.3 1278.6,101.3 1278.6,138.4 1218.8,138.4" fill="#d1d1d1"/><polygon points="1270.6,58.1 1332.8,58.1 1332.8,122.3 1356.8,162.4 1364.8,230.6 1377.9,260.7 1377.9,290.0 1308.7,290.0 1312.7,230.6 1308.7,162.4 1288.6,134.3 1270.6,130.3" fill="#cccccc"/><polygon points="1268.6,134.3 1288.6,134.3 1308.7,162.4 1312.7,290.0 1268.6,290.0" fill="#dbdbdb"/><polygon points="1284.6,8.0 1332.8,8.0 1330.7,50.1 1308.7,60.1 1294.6,36.1" fill="#cccccc"/><polygon points="1296.7,8.0 1322.7,8.0 1310.7,30.1" fill="#999999"/><polygon points="1297.9,60.1 1332.0,60.1 1334.0,122.3 1364.1,170.4 1364.1,220.6 1382.1,270.7 1382.1,290.0 1318.0,290.0 1309.9,162.4 1297.9,134.3" fill="#cccccc"/><polygon points="1362.1,122.3 1386.1,122.3 1434.3,226.6 1436.3,280.8 1386.1,270.7 1364.1,220.6 1362.1,170.4" fill="#b8b8b8"/><polygon points="1374.1,140.4 1390.2,140.4 1430.3,222.6 1426.3,260.7 1384.1,250.7" fill="#8c8c8c"/><polygon points="1378.1,154.4 1392.2,154.4 1426.3,220.6 1418.2,240.6 1384.1,234.6 1382.1,190.5" fill="#454545"/><polygon points="1392.2,76.2 1418.2,70.2 1426.3,40.1 1442.3,40.1 1458.3,122.3 1490.4,210.6 1510.5,216.6 1510.5,134.3 1528.5,134.3 1544.6,210.6 1594.7,216.6 1594.7,130.3 1598.7,70.2 1626.8,66.2 1638.9,66.2 1638.9,300.8 1494.5,300.8 1464.4,236.6 1438.3,236.6 1436.3,226.6 1386.1,122.3" fill="#cccccc"/><polygon points="1528.5,10.0 1638.9,10.0 1638.9,70.2 1598.7,70.2 1578.7,50.1 1538.6,40.1" fill="#f7f7f7"/><polygon points="1468.4,28.1 1528.5,28.1 1560.6,102.3 1510.5,102.3" fill="#ffffff"/><polygon points="1384.1,270.7 1436.3,280.8 1446.3,300.8 1384.1,300.8" fill="#cccccc"/><polygon points="1047.9,262.0 1073.9,262.0 1093.9,352.0 1073.9,372.0 1055.9,330.0" fill="#545454"/><polygon points="1031.9,310.1 1048.0,310.1 1054.0,370.3 1054.0,430.4 1031.9,440.5" fill="#cccccc"/><polygon points="1112.1,268.0 1168.3,268.0 1162.3,300.1 1166.3,344.2 1174.3,376.3 1144.2,344.2 1127.2,302.1" fill="#f0f0f0"/><polygon points="1184.3,290.1 1220.4,282.0 1220.4,336.2 1200.4,338.2 1198.4,370.3 1168.3,374.3 1176.3,358.2 1182.3,338.2" fill="#cccccc"/><polygon points="1168.3,378.3 1202.4,378.3 1204.4,430.4 1170.3,430.4" fill="#b2b2b2"/><polygon points="1156.3,282.0 1188.3,274.0 1188.3,330.2 1180.3,366.3 1160.3,350.2" fill="#737373"/><polygon points="1188.3,268.0 1208.4,268.0 1204.4,286.0 1186.3,298.1 1180.3,340.2 1176.3,358.2 1168.3,340.2 1166.3,300.1 1180.3,280.0" fill="#1f1f1f"/><polygon points="1200.4,338.2 1286.6,338.2 1312.7,430.4 1204.4,430.4" fill="#cccccc"/><polygon points="1211.4,364.3 1225.5,364.3 1254.5,434.5 1238.5,434.5 1220.4,410.4" fill="#666666"/><polygon points="1265.6,358.2 1279.6,364.3 1308.7,434.5 1289.6,434.5 1273.6,400.4" fill="#666666"/><polygon points="1214.4,426.4 1240.5,426.4 1244.5,472.6 1226.5,472.6" fill="#999999"/><polygon points="1288.6,294.1 1345.8,294.1 1345.8,388.3 1308.7,392.3 1288.6,350.2" fill="#f0f0f0"/><polygon points="1035.9,500.6 1078.0,500.6 1068.0,550.0 1035.9,550.0" fill="#b2b2b2"/><polygon points="1108.1,510.7 1178.3,510.7 1184.3,550.0 1104.1,550.0" fill="#545454"/><polygon points="1293.9,266.0 1364.1,266.0 1364.1,310.1 1293.9,310.1" fill="#cccccc"/><polygon points="1293.9,310.1 1344.0,310.1 1344.0,390.3 1293.9,390.3" fill="#f0f0f0"/><polygon points="1418.2,266.0 1464.4,266.0 1464.4,360.3 1418.2,360.3" fill="#cccccc"/><polygon points="1464.4,286.0 1484.4,282.0 1512.5,330.2 1508.5,378.3 1522.5,398.4 1538.6,414.4 1538.6,430.4 1518.5,426.4 1498.5,382.3 1494.5,330.2 1464.4,326.2" fill="#cccccc"/><polygon points="1484.4,266.0 1658.9,266.0 1658.9,334.2 1516.5,334.2 1498.5,306.1" fill="#cccccc"/><polygon points="1514.5,334.2 1524.5,334.2 1536.6,410.4 1524.5,394.3 1514.5,382.3" fill="#cccccc"/><polygon points="1478.4,510.7 1488.4,510.7 1508.5,550.0 1478.4,550.0" fill="#595959"/><polygon points="1528.5,330.2 1658.9,330.2 1658.9,356.2 1536.6,356.2" fill="#cccccc"/><polygon points="1128.2,70.2 1186.3,70.2 1188.3,202.5 1132.2,206.6" fill="#858585"/><polygon points="1031.9,138.4 1046.0,138.4 1058.0,170.4 1048.0,190.5 1031.9,190.5" fill="#545454"/>
</g></g>
<g clip-path="url(#clC)"><g filter="url(#fC)">
<rect x="100.3" y="710.0" width="668.4" height="609.3" fill="#ffffff"/><polygon points="90.0,745.0 300.0,745.0 440.0,757.5 560.0,757.5 680.0,833.5 780.0,840.5 780.0,1330.0 90.0,1330.0" fill="#fefefe"/><polygon points="90.0,800.5 300.0,800.5 440.0,824.0 560.0,824.0 680.0,976.0 780.0,983.0 780.0,1330.0 90.0,1330.0" fill="#fcfcfc"/><polygon points="90.0,828.5 300.0,828.5 440.0,848.0 560.0,848.0 680.0,989.1 780.0,996.1 780.0,1330.0 90.0,1330.0" fill="#fafafa"/><polygon points="90.0,856.5 300.0,856.5 440.0,872.0 560.0,872.0 680.0,1002.4 780.0,1009.4 780.0,1330.0 90.0,1330.0" fill="#f8f8f8"/><polygon points="90.0,874.0 300.0,874.0 440.0,886.5 560.0,886.5 680.0,1008.9 780.0,1015.9 780.0,1330.0 90.0,1330.0" fill="#f6f6f6"/><polygon points="90.0,890.0 300.0,890.0 440.0,899.8 560.0,899.8 680.0,1014.5 780.0,1021.5 780.0,1330.0 90.0,1330.0" fill="#f4f4f4"/><polygon points="90.0,904.5 300.0,904.5 440.0,912.5 560.0,912.5 680.0,1019.5 780.0,1026.5 780.0,1330.0 90.0,1330.0" fill="#f1f1f1"/><polygon points="90.0,916.5 300.0,916.5 440.0,924.5 560.0,924.5 680.0,1023.5 780.0,1030.5 780.0,1330.0 90.0,1330.0" fill="#efefef"/><polygon points="90.0,928.5 300.0,928.5 440.0,936.5 560.0,936.5 680.0,1027.5 780.0,1034.5 780.0,1330.0 90.0,1330.0" fill="#ededed"/><polygon points="90.0,938.2 300.0,938.2 440.0,947.3 560.0,947.3 680.0,1030.8 780.0,1037.8 780.0,1330.0 90.0,1330.0" fill="#ebebeb"/><polygon points="90.0,947.5 300.0,947.5 440.0,958.0 560.0,958.0 680.0,1034.0 780.0,1041.0 780.0,1330.0 90.0,1330.0" fill="#e9e9e9"/><polygon points="90.0,956.8 300.0,956.8 440.0,968.7 560.0,968.7 680.0,1037.2 780.0,1044.2 780.0,1330.0 90.0,1330.0" fill="#e7e7e7"/><polygon points="90.0,966.6 300.0,966.6 440.0,979.8 560.0,979.8 680.0,1040.5 780.0,1047.5 780.0,1330.0 90.0,1330.0" fill="#e5e5e5"/><polygon points="90.0,979.4 300.0,979.4 440.0,993.8 560.0,993.8 680.0,1044.3 780.0,1051.3 780.0,1330.0 90.0,1330.0" fill="#e3e3e3"/><polygon points="90.0,992.2 300.0,992.2 440.0,1007.9 560.0,1007.9 680.0,1048.2 780.0,1055.2 780.0,1330.0 90.0,1330.0" fill="#e1e1e1"/><polygon points="90.0,1005.0 300.0,1005.0 440.0,1022.0 560.0,1022.0 680.0,1052.0 780.0,1059.0 780.0,1330.0 90.0,1330.0" fill="#dfdfdf"/><polygon points="90.0,1011.9 300.0,1011.9 440.0,1027.5 560.0,1027.5 680.0,1054.3 780.0,1061.3 780.0,1330.0 90.0,1330.0" fill="#dddddd"/><polygon points="90.0,1018.7 300.0,1018.7 440.0,1033.0 560.0,1033.0 680.0,1056.6 780.0,1063.6 780.0,1330.0 90.0,1330.0" fill="#dbdbdb"/><polygon points="90.0,1025.6 300.0,1025.6 440.0,1038.5 560.0,1038.5 680.0,1058.9 780.0,1065.9 780.0,1330.0 90.0,1330.0" fill="#d9d9d9"/><polygon points="90.0,1032.4 300.0,1032.4 440.0,1043.9 560.0,1043.9 680.0,1061.1 780.0,1068.1 780.0,1330.0 90.0,1330.0" fill="#d7d7d7"/><polygon points="90.0,1036.7 300.0,1036.7 440.0,1047.7 560.0,1047.7 680.0,1063.0 780.0,1070.0 780.0,1330.0 90.0,1330.0" fill="#d5d5d5"/><polygon points="90.0,1043.5 300.0,1043.5 440.0,1054.5 560.0,1054.5 680.0,1067.0 780.0,1074.0 780.0,1330.0 90.0,1330.0" fill="#d0d0d0"/><polygon points="90.0,1050.3 300.0,1050.3 440.0,1061.3 560.0,1061.3 680.0,1071.0 780.0,1078.0 780.0,1330.0 90.0,1330.0" fill="#cbcbcb"/><polygon points="90.0,1056.5 300.0,1056.5 440.0,1067.0 560.0,1067.0 680.0,1075.0 780.0,1082.0 780.0,1330.0 90.0,1330.0" fill="#c6c6c6"/><polygon points="90.0,1062.5 300.0,1062.5 440.0,1072.3 560.0,1072.3 680.0,1079.0 780.0,1086.0 780.0,1330.0 90.0,1330.0" fill="#c1c1c1"/><polygon points="90.0,1068.5 300.0,1068.5 440.0,1077.7 560.0,1077.7 680.0,1083.0 780.0,1090.0 780.0,1330.0 90.0,1330.0" fill="#bbbbbb"/><polygon points="90.0,1076.0 300.0,1076.0 440.0,1083.2 560.0,1083.2 680.0,1087.0 780.0,1094.0 780.0,1330.0 90.0,1330.0" fill="#b6b6b6"/><polygon points="90.0,1084.0 300.0,1084.0 440.0,1088.8 560.0,1088.8 680.0,1091.0 780.0,1098.0 780.0,1330.0 90.0,1330.0" fill="#b1b1b1"/><polygon points="90.0,1091.7 300.0,1091.7 440.0,1094.2 560.0,1094.2 680.0,1095.0 780.0,1102.0 780.0,1330.0 90.0,1330.0" fill="#acacac"/><polygon points="90.0,1098.3 300.0,1098.3 440.0,1098.8 560.0,1098.8 680.0,1099.0 780.0,1106.0 780.0,1330.0 90.0,1330.0" fill="#a7a7a7"/><polygon points="90.0,1105.0 300.0,1105.0 440.0,1103.5 560.0,1103.5 680.0,1103.0 780.0,1110.0 780.0,1330.0 90.0,1330.0" fill="#a2a2a2"/><polygon points="90.0,1111.1 300.0,1111.1 440.0,1107.9 560.0,1107.9 680.0,1106.8 780.0,1113.8 780.0,1330.0 90.0,1330.0" fill="#9d9d9d"/><polygon points="90.0,1115.6 300.0,1115.6 440.0,1111.4 560.0,1111.4 680.0,1109.9 780.0,1116.9 780.0,1330.0 90.0,1330.0" fill="#989898"/><polygon points="90.0,1120.0 300.0,1120.0 440.0,1115.0 560.0,1115.0 680.0,1113.0 780.0,1120.0 780.0,1330.0 90.0,1330.0" fill="#939393"/><polygon points="90.0,1124.4 300.0,1124.4 440.0,1118.6 560.0,1118.6 680.0,1116.1 780.0,1123.1 780.0,1330.0 90.0,1330.0" fill="#8e8e8e"/><polygon points="90.0,1128.9 300.0,1128.9 440.0,1122.1 560.0,1122.1 680.0,1119.2 780.0,1126.2 780.0,1330.0 90.0,1330.0" fill="#888888"/><polygon points="90.0,1133.0 300.0,1133.0 440.0,1125.6 560.0,1125.6 680.0,1122.4 780.0,1129.4 780.0,1330.0 90.0,1330.0" fill="#838383"/><polygon points="90.0,1137.0 300.0,1137.0 440.0,1129.1 560.0,1129.1 680.0,1125.7 780.0,1132.7 780.0,1330.0 90.0,1330.0" fill="#7e7e7e"/><polygon points="90.0,1141.0 300.0,1141.0 440.0,1132.6 560.0,1132.6 680.0,1128.9 780.0,1135.9 780.0,1330.0 90.0,1330.0" fill="#797979"/><polygon points="90.0,1145.0 300.0,1145.0 440.0,1136.1 560.0,1136.1 680.0,1132.2 780.0,1139.2 780.0,1330.0 90.0,1330.0" fill="#747474"/><polygon points="90.0,1148.2 300.0,1148.2 440.0,1139.0 560.0,1139.0 680.0,1135.0 780.0,1142.0 780.0,1330.0 90.0,1330.0" fill="#6f6f6f"/><polygon points="90.0,1151.2 300.0,1151.2 440.0,1141.7 560.0,1141.7 680.0,1137.7 780.0,1144.7 780.0,1330.0 90.0,1330.0" fill="#6a6a6a"/><polygon points="90.0,1154.2 300.0,1154.2 440.0,1144.3 560.0,1144.3 680.0,1140.3 780.0,1147.3 780.0,1330.0 90.0,1330.0" fill="#656565"/><polygon points="90.0,1157.2 300.0,1157.2 440.0,1147.0 560.0,1147.0 680.0,1143.0 780.0,1150.0 780.0,1330.0 90.0,1330.0" fill="#606060"/><polygon points="90.0,1160.2 300.0,1160.2 440.0,1149.7 560.0,1149.7 680.0,1145.7 780.0,1152.7 780.0,1330.0 90.0,1330.0" fill="#5b5b5b"/><polygon points="90.0,1163.2 300.0,1163.2 440.0,1152.3 560.0,1152.3 680.0,1148.3 780.0,1155.3 780.0,1330.0 90.0,1330.0" fill="#555555"/><polygon points="90.0,1171.0 300.0,1171.0 440.0,1158.0 560.0,1158.0 680.0,1156.0 780.0,1163.0 780.0,1330.0 90.0,1330.0" fill="#505050"/><polygon points="90.0,1180.3 300.0,1180.3 440.0,1164.7 560.0,1164.7 680.0,1165.3 780.0,1172.3 780.0,1330.0 90.0,1330.0" fill="#4b4b4b"/><polygon points="90.0,1189.7 300.0,1189.7 440.0,1171.3 560.0,1171.3 680.0,1174.7 780.0,1181.7 780.0,1330.0 90.0,1330.0" fill="#464646"/><polygon points="90.0,1199.1 300.0,1199.1 440.0,1178.1 560.0,1178.1 680.0,1184.5 780.0,1191.5 780.0,1330.0 90.0,1330.0" fill="#414141"/><polygon points="90.0,1208.5 300.0,1208.5 440.0,1185.0 560.0,1185.0 680.0,1194.5 780.0,1201.5 780.0,1330.0 90.0,1330.0" fill="#3c3c3c"/><polygon points="90.0,1217.9 300.0,1217.9 440.0,1191.9 560.0,1191.9 680.0,1204.5 780.0,1211.5 780.0,1330.0 90.0,1330.0" fill="#373737"/><polygon points="90.0,1228.1 300.0,1228.1 440.0,1199.6 560.0,1199.6 680.0,1215.3 780.0,1222.3 780.0,1330.0 90.0,1330.0" fill="#323232"/><polygon points="90.0,1240.4 300.0,1240.4 440.0,1209.9 560.0,1209.9 680.0,1228.7 780.0,1235.7 780.0,1330.0 90.0,1330.0" fill="#2d2d2d"/><polygon points="90.0,1252.8 300.0,1252.8 440.0,1220.3 560.0,1220.3 680.0,1242.0 780.0,1249.0 780.0,1330.0 90.0,1330.0" fill="#282828"/><polygon points="90.0,1266.8 300.0,1266.8 440.0,1232.6 560.0,1232.6 680.0,1257.5 780.0,1264.5 780.0,1330.0 90.0,1330.0" fill="#222222"/><polygon points="90.0,1285.8 300.0,1285.8 440.0,1251.1 560.0,1251.1 680.0,1279.5 780.0,1286.5 780.0,1330.0 90.0,1330.0" fill="#1d1d1d"/><polygon points="90.0,1306.7 300.0,1306.7 440.0,1271.7 560.0,1271.7 680.0,1302.7 780.0,1309.7 780.0,1330.0 90.0,1330.0" fill="#181818"/><polygon points="197.7,950.0 195.0,1000.0 191.4,1060.0 188.0,1120.0 188.4,1200.0 191.6,1200.0 192.0,1120.0 194.6,1060.0 197.0,1000.0 198.3,950.0" fill="url(#cgrad)" fill-opacity="0.45" filter="url(#bl2)"/><polygon points="277.7,990.0 275.5,1040.0 270.6,1100.0 268.6,1160.0 269.0,1230.0 273.0,1230.0 273.4,1160.0 275.4,1100.0 278.5,1040.0 278.3,990.0" fill="url(#cgrad)" fill-opacity="0.50" filter="url(#bl2)"/><polygon points="330.7,1025.0 329.4,1070.0 329.8,1130.0 331.4,1200.0 334.6,1200.0 334.2,1130.0 332.6,1070.0 331.3,1025.0" fill="url(#cgrad)" fill-opacity="0.45" filter="url(#bl2)"/><polygon points="368.7,1068.0 367.5,1100.0 368.2,1150.0 369.8,1200.0 372.2,1200.0 371.8,1150.0 370.5,1100.0 369.3,1068.0" fill="url(#cgrad)" fill-opacity="0.40" filter="url(#bl2)"/><polygon points="415.5,895.0 411.0,940.0 404.0,990.0 399.0,1040.0 397.0,1080.0 400.0,1130.0 403.0,1200.0 406.0,1250.0 412.0,1250.0 415.0,1200.0 416.0,1130.0 415.0,1080.0 415.0,1040.0 416.0,990.0 417.0,940.0 416.5,895.0" fill="url(#cgrad)" fill-opacity="0.85" filter="url(#bl2)"/><polygon points="466.5,1008.0 462.0,1050.0 458.0,1100.0 456.0,1150.0 458.0,1220.0 466.0,1220.0 468.0,1150.0 470.0,1100.0 470.0,1050.0 467.5,1008.0" fill="url(#cgrad)" fill-opacity="0.50" filter="url(#bl2)"/><polygon points="480.5,1040.0 478.0,1080.0 477.0,1130.0 479.0,1200.0 487.0,1200.0 487.0,1130.0 484.0,1080.0 481.5,1040.0" fill="url(#cgrad)" fill-opacity="0.45" filter="url(#bl2)"/><polygon points="534.5,870.0 530.5,910.0 526.0,950.0 514.0,975.0 495.0,990.0 493.0,1020.0 499.0,1050.0 506.0,1090.0 509.0,1130.0 511.0,1200.0 514.0,1260.0 520.0,1260.0 523.0,1200.0 525.0,1130.0 526.0,1090.0 521.0,1050.0 513.0,1020.0 511.0,990.0 526.0,975.0 534.0,950.0 535.5,910.0 535.5,870.0" fill="url(#cgrad)" fill-opacity="0.85" filter="url(#bl2)"/><polygon points="556.0,1028.0 548.0,1050.0 546.0,1075.0 549.0,1100.0 552.0,1140.0 553.0,1200.0 563.0,1200.0 564.0,1140.0 569.0,1100.0 574.0,1075.0 568.0,1050.0 558.0,1028.0" fill="url(#cgrad)" fill-opacity="0.55" filter="url(#bl2)"/><polygon points="596.5,1035.0 592.0,1060.0 591.0,1100.0 593.0,1150.0 595.0,1210.0 603.0,1210.0 605.0,1150.0 605.0,1100.0 602.0,1060.0 597.5,1035.0" fill="url(#cgrad)" fill-opacity="0.55" filter="url(#bl2)"/><polygon points="639.5,985.0 637.0,1030.0 633.0,1070.0 633.0,1100.0 635.0,1140.0 637.0,1200.0 647.0,1200.0 649.0,1140.0 653.0,1100.0 651.0,1070.0 645.0,1030.0 640.5,985.0" fill="url(#cgrad)" fill-opacity="0.60" filter="url(#bl2)"/><polygon points="680.5,1040.0 676.0,1075.0 677.0,1110.0 680.0,1150.0 682.0,1200.0 688.0,1200.0 690.0,1150.0 691.0,1110.0 688.0,1075.0 681.5,1040.0" fill="url(#cgrad)" fill-opacity="0.50" filter="url(#bl2)"/><polygon points="660.5,1050.0 658.0,1080.0 658.0,1120.0 659.0,1170.0 665.0,1170.0 666.0,1120.0 664.0,1080.0 661.5,1050.0" fill="url(#cgrad)" fill-opacity="0.30" filter="url(#bl2)"/><polygon points="576.5,1060.0 574.0,1090.0 574.0,1130.0 575.0,1180.0 581.0,1180.0 582.0,1130.0 580.0,1090.0 577.5,1060.0" fill="url(#cgrad)" fill-opacity="0.30" filter="url(#bl2)"/><polygon points="619.5,1055.0 617.0,1090.0 617.0,1130.0 618.0,1180.0 624.0,1180.0 625.0,1130.0 623.0,1090.0 620.5,1055.0" fill="url(#cgrad)" fill-opacity="0.30" filter="url(#bl2)"/><polygon points="147.6,1048.3 145.2,1083.3 143.6,1128.3 143.2,1178.3 145.8,1178.3 147.4,1128.3 148.5,1083.3 148.2,1048.3" fill="url(#cgrad)" fill-opacity="0.33" filter="url(#bl2)"/><polygon points="165.1,1043.2 162.8,1078.2 161.0,1123.2 160.5,1173.2 162.9,1173.2 164.5,1123.2 165.7,1078.2 165.7,1043.2" fill="url(#cgrad)" fill-opacity="0.31" filter="url(#bl2)"/><polygon points="178.5,1045.0 178.3,1080.0 179.0,1125.0 180.4,1175.0 182.5,1175.0 182.3,1125.0 181.0,1080.0 179.1,1045.0" fill="url(#cgrad)" fill-opacity="0.24" filter="url(#bl2)"/><polygon points="219.2,1092.1 217.7,1127.1 217.1,1172.1 217.5,1222.1 219.9,1222.1 220.8,1172.1 220.8,1127.1 219.8,1092.1" fill="url(#cgrad)" fill-opacity="0.42" filter="url(#bl2)"/><polygon points="229.3,1087.2 227.5,1122.2 226.1,1167.2 225.7,1217.2 227.7,1217.2 229.0,1167.2 229.9,1122.2 229.9,1087.2" fill="url(#cgrad)" fill-opacity="0.24" filter="url(#bl2)"/><polygon points="249.4,1084.9 248.8,1119.9 248.8,1164.9 249.5,1214.9 251.2,1214.9 251.5,1164.9 251.0,1119.9 250.0,1084.9" fill="url(#cgrad)" fill-opacity="0.35" filter="url(#bl2)"/><polygon points="267.2,1070.1 265.4,1105.1 263.8,1150.1 263.2,1200.1 264.7,1200.1 266.2,1150.1 267.4,1105.1 267.8,1070.1" fill="url(#cgrad)" fill-opacity="0.26" filter="url(#bl2)"/><polygon points="287.9,1063.5 287.1,1098.5 287.1,1143.5 287.9,1193.5 289.8,1193.5 290.1,1143.5 289.6,1098.5 288.5,1063.5" fill="url(#cgrad)" fill-opacity="0.31" filter="url(#bl2)"/><polygon points="300.3,1083.7 298.3,1118.7 297.2,1163.7 297.2,1213.7 299.9,1213.7 301.2,1163.7 301.7,1118.7 300.9,1083.7" fill="url(#cgrad)" fill-opacity="0.33" filter="url(#bl2)"/><polygon points="320.0,1088.1 318.1,1123.1 317.1,1168.1 317.2,1218.1 320.0,1218.1 321.2,1168.1 321.5,1123.1 320.6,1088.1" fill="url(#cgrad)" fill-opacity="0.42" filter="url(#bl2)"/><polygon points="352.7,1081.6 351.9,1116.6 351.7,1161.6 352.1,1211.6 353.8,1211.6 354.2,1161.6 354.1,1116.6 353.3,1081.6" fill="url(#cgrad)" fill-opacity="0.23" filter="url(#bl2)"/><polygon points="390.9,1071.5 388.9,1106.5 387.9,1151.5 388.2,1201.5 391.2,1201.5 392.4,1151.5 392.6,1106.5 391.5,1071.5" fill="url(#cgrad)" fill-opacity="0.36" filter="url(#bl2)"/><polygon points="405.8,1071.9 405.5,1106.9 406.4,1151.9 407.7,1201.9 410.0,1201.9 409.7,1151.9 408.4,1106.9 406.4,1071.9" fill="url(#cgrad)" fill-opacity="0.41" filter="url(#bl2)"/><polygon points="440.7,1028.3 439.7,1063.3 439.8,1108.3 440.8,1158.3 443.5,1158.3 443.8,1108.3 443.0,1063.3 441.3,1028.3" fill="url(#cgrad)" fill-opacity="0.42" filter="url(#bl2)"/><polygon points="508.7,1026.2 506.8,1061.2 505.5,1106.2 505.2,1156.2 507.5,1156.2 508.9,1106.2 509.6,1061.2 509.3,1026.2" fill="url(#cgrad)" fill-opacity="0.24" filter="url(#bl2)"/><polygon points="518.4,1067.3 517.1,1102.3 516.0,1147.3 515.9,1197.3 517.5,1197.3 518.5,1147.3 519.1,1102.3 519.0,1067.3" fill="url(#cgrad)" fill-opacity="0.30" filter="url(#bl2)"/><polygon points="545.2,1029.4 544.2,1064.4 544.1,1109.4 544.7,1159.4 547.0,1159.4 547.4,1109.4 547.0,1064.4 545.8,1029.4" fill="url(#cgrad)" fill-opacity="0.40" filter="url(#bl2)"/><polygon points="607.7,1044.7 607.2,1079.7 608.3,1124.7 610.1,1174.7 613.1,1174.7 612.8,1124.7 611.0,1079.7 608.3,1044.7" fill="url(#cgrad)" fill-opacity="0.25" filter="url(#bl2)"/><polygon points="694.8,1039.5 694.0,1074.5 693.5,1119.5 693.7,1169.5 695.1,1169.5 695.7,1119.5 695.8,1074.5 695.4,1039.5" fill="url(#cgrad)" fill-opacity="0.29" filter="url(#bl2)"/><polygon points="711.5,1077.4 710.2,1112.4 709.9,1157.4 710.6,1207.4 713.2,1207.4 713.9,1157.4 713.5,1112.4 712.1,1077.4" fill="url(#cgrad)" fill-opacity="0.34" filter="url(#bl2)"/><ellipse cx="618" cy="1092" rx="85" ry="30" fill="#000" fill-opacity="0.16" filter="url(#bl12)"/><ellipse cx="235" cy="1075" rx="38" ry="22" fill="#000" fill-opacity="0.10" filter="url(#bl12)"/><ellipse cx="310" cy="1262" rx="70" ry="30" fill="#000" fill-opacity="0.35" filter="url(#bl12)"/><ellipse cx="560" cy="1235" rx="70" ry="40" fill="#000" fill-opacity="0.30" filter="url(#bl12)"/><rect x="120" y="1140" width="40" height="160" fill="#fff" fill-opacity="0.10" filter="url(#bl12)"/>
</g></g>
<g clip-path="url(#clD)"><g filter="url(#fD)">
<rect x="998.1" y="710.0" width="669.2" height="609.0" fill="#808080"/><rect x="1038.1" y="710.0" width="589.2" height="58.1" fill="url(#dg0)"/><rect x="998.1" y="710.0" width="41" height="58.1" fill="#4f4f4f"/><rect x="1626.3" y="710.0" width="41" height="58.1" fill="#262626"/><rect x="1038.1" y="767.6" width="589.2" height="18.1" fill="url(#dg1)"/><rect x="998.1" y="767.6" width="41" height="18.1" fill="#525252"/><rect x="1626.3" y="767.6" width="41" height="18.1" fill="#272727"/><rect x="1038.1" y="785.3" width="589.2" height="18.1" fill="url(#dg2)"/><rect x="998.1" y="785.3" width="41" height="18.1" fill="#5a5a5a"/><rect x="1626.3" y="785.3" width="41" height="18.1" fill="#2b2b2b"/><rect x="1038.1" y="802.9" width="589.2" height="18.1" fill="url(#dg3)"/><rect x="998.1" y="802.9" width="41" height="18.1" fill="#616161"/><rect x="1626.3" y="802.9" width="41" height="18.1" fill="#2e2e2e"/><rect x="1038.1" y="820.5" width="589.2" height="18.1" fill="url(#dg4)"/><rect x="998.1" y="820.5" width="41" height="18.1" fill="#636363"/><rect x="1626.3" y="820.5" width="41" height="18.1" fill="#303030"/><rect x="1038.1" y="838.2" width="589.2" height="18.1" fill="url(#dg5)"/><rect x="998.1" y="838.2" width="41" height="18.1" fill="#656565"/><rect x="1626.3" y="838.2" width="41" height="18.1" fill="#323232"/><rect x="1038.1" y="855.8" width="589.2" height="18.1" fill="url(#dg6)"/><rect x="998.1" y="855.8" width="41" height="18.1" fill="#646464"/><rect x="1626.3" y="855.8" width="41" height="18.1" fill="#353535"/><rect x="1038.1" y="873.4" width="589.2" height="18.1" fill="url(#dg7)"/><rect x="998.1" y="873.4" width="41" height="18.1" fill="#626262"/><rect x="1626.3" y="873.4" width="41" height="18.1" fill="#373737"/><rect x="1038.1" y="891.1" width="589.2" height="18.1" fill="url(#dg8)"/><rect x="998.1" y="891.1" width="41" height="18.1" fill="#5f5f5f"/><rect x="1626.3" y="891.1" width="41" height="18.1" fill="#3c3c3c"/><rect x="1038.1" y="908.7" width="589.2" height="18.1" fill="url(#dg9)"/><rect x="998.1" y="908.7" width="41" height="18.1" fill="#595959"/><rect x="1626.3" y="908.7" width="41" height="18.1" fill="#454545"/><rect x="1038.1" y="926.3" width="589.2" height="18.1" fill="url(#dg10)"/><rect x="998.1" y="926.3" width="41" height="18.1" fill="#545454"/><rect x="1626.3" y="926.3" width="41" height="18.1" fill="#4e4e4e"/><rect x="1038.1" y="944.0" width="589.2" height="18.1" fill="url(#dg11)"/><rect x="998.1" y="944.0" width="41" height="18.1" fill="#505050"/><rect x="1626.3" y="944.0" width="41" height="18.1" fill="#595959"/><rect x="1038.1" y="961.6" width="589.2" height="18.1" fill="url(#dg12)"/><rect x="998.1" y="961.6" width="41" height="18.1" fill="#4d4d4d"/><rect x="1626.3" y="961.6" width="41" height="18.1" fill="#646464"/><rect x="1038.1" y="979.2" width="589.2" height="18.1" fill="url(#dg13)"/><rect x="998.1" y="979.2" width="41" height="18.1" fill="#4b4b4b"/><rect x="1626.3" y="979.2" width="41" height="18.1" fill="#717171"/><rect x="1038.1" y="996.9" width="589.2" height="18.1" fill="url(#dg14)"/><rect x="998.1" y="996.9" width="41" height="18.1" fill="#494949"/><rect x="1626.3" y="996.9" width="41" height="18.1" fill="#7e7e7e"/><rect x="1038.1" y="1014.5" width="589.2" height="18.1" fill="url(#dg15)"/><rect x="998.1" y="1014.5" width="41" height="18.1" fill="#484848"/><rect x="1626.3" y="1014.5" width="41" height="18.1" fill="#8b8b8b"/><rect x="1038.1" y="1032.1" width="589.2" height="18.1" fill="url(#dg16)"/><rect x="998.1" y="1032.1" width="41" height="18.1" fill="#3d3d3d"/><rect x="1626.3" y="1032.1" width="41" height="18.1" fill="#949494"/><rect x="1038.1" y="1049.8" width="589.2" height="18.1" fill="url(#dg17)"/><rect x="998.1" y="1049.8" width="41" height="18.1" fill="#313131"/><rect x="1626.3" y="1049.8" width="41" height="18.1" fill="#9d9d9d"/><rect x="1038.1" y="1067.4" width="589.2" height="18.1" fill="url(#dg18)"/><rect x="998.1" y="1067.4" width="41" height="18.1" fill="#262626"/><rect x="1626.3" y="1067.4" width="41" height="18.1" fill="#a7a7a7"/><rect x="1038.1" y="1085.0" width="589.2" height="18.1" fill="url(#dg19)"/><rect x="998.1" y="1085.0" width="41" height="18.1" fill="#262626"/><rect x="1626.3" y="1085.0" width="41" height="18.1" fill="#b5b5b5"/><rect x="1038.1" y="1102.7" width="589.2" height="18.1" fill="url(#dg20)"/><rect x="998.1" y="1102.7" width="41" height="18.1" fill="#262626"/><rect x="1626.3" y="1102.7" width="41" height="18.1" fill="#c3c3c3"/><rect x="1038.1" y="1120.3" width="589.2" height="18.1" fill="url(#dg21)"/><rect x="998.1" y="1120.3" width="41" height="18.1" fill="#3b3b3b"/><rect x="1626.3" y="1120.3" width="41" height="18.1" fill="#cdcdcd"/><rect x="1038.1" y="1137.9" width="589.2" height="18.1" fill="url(#dg22)"/><rect x="998.1" y="1137.9" width="41" height="18.1" fill="#575757"/><rect x="1626.3" y="1137.9" width="41" height="18.1" fill="#d5d5d5"/><rect x="1038.1" y="1155.6" width="589.2" height="18.1" fill="url(#dg23)"/><rect x="998.1" y="1155.6" width="41" height="18.1" fill="#6b6b6b"/><rect x="1626.3" y="1155.6" width="41" height="18.1" fill="#dadada"/><rect x="1038.1" y="1173.2" width="589.2" height="18.1" fill="url(#dg24)"/><rect x="998.1" y="1173.2" width="41" height="18.1" fill="#767676"/><rect x="1626.3" y="1173.2" width="41" height="18.1" fill="#dedede"/><rect x="1038.1" y="1190.8" width="589.2" height="18.1" fill="url(#dg25)"/><rect x="998.1" y="1190.8" width="41" height="18.1" fill="#7d7d7d"/><rect x="1626.3" y="1190.8" width="41" height="18.1" fill="#e0e0e0"/><rect x="1038.1" y="1208.5" width="589.2" height="18.1" fill="url(#dg26)"/><rect x="998.1" y="1208.5" width="41" height="18.1" fill="#6d6d6d"/><rect x="1626.3" y="1208.5" width="41" height="18.1" fill="#dddddd"/><rect x="1038.1" y="1226.1" width="589.2" height="18.1" fill="url(#dg27)"/><rect x="998.1" y="1226.1" width="41" height="18.1" fill="#5c5c5c"/><rect x="1626.3" y="1226.1" width="41" height="18.1" fill="#d9d9d9"/><rect x="1038.1" y="1243.7" width="589.2" height="18.1" fill="url(#dg28)"/><rect x="998.1" y="1243.7" width="41" height="18.1" fill="#595959"/><rect x="1626.3" y="1243.7" width="41" height="18.1" fill="#d4d4d4"/><rect x="1038.1" y="1261.4" width="589.2" height="58.1" fill="url(#dg29)"/><rect x="998.1" y="1261.4" width="41" height="58.1" fill="#595959"/><rect x="1626.3" y="1261.4" width="41" height="58.1" fill="#cecece"/><rect x="1370.0" y="700.0" width="20.0" height="85.0" fill="#1a1a1a" filter="url(#bl5)"/><rect x="1481.0" y="700.0" width="18.0" height="90.0" fill="#1f1f1f" filter="url(#bl5)"/><rect x="1058.0" y="1040.0" width="16.0" height="90.0" fill="#1a1a1a" filter="url(#bl5)"/><rect x="1084.0" y="882.0" width="14.0" height="56.0" fill="#292929" filter="url(#bl5)"/><rect x="1200.0" y="700.0" width="34.0" height="64.0" fill="#141414" filter="url(#bl5)"/>
</g></g>
<line x1="139.5" y1="15.3" x2="139.5" y2="544.8" stroke="#262626" stroke-width="1.3"/>
<line x1="139.5" y1="544.8" x2="728.0" y2="544.8" stroke="#262626" stroke-width="1.3"/>
<line x1="134.0" y1="202.6" x2="139.5" y2="202.6" stroke="#262626" stroke-width="1.6"/>
<line x1="728.0" y1="202.6" x2="733.5" y2="202.6" stroke="#262626" stroke-width="1.6"/>
<text x="122.7" y="216.1" font-size="35.3" text-anchor="end" stroke="#1a1a1a" stroke-width="0.55">40</text>
<line x1="134.0" y1="399.8" x2="139.5" y2="399.8" stroke="#262626" stroke-width="1.6"/>
<line x1="728.0" y1="399.8" x2="733.5" y2="399.8" stroke="#262626" stroke-width="1.6"/>
<text x="122.7" y="413.3" font-size="35.3" text-anchor="end" stroke="#1a1a1a" stroke-width="0.55">39.8</text>
<line x1="1037.4" y1="15.3" x2="1037.4" y2="544.5" stroke="#262626" stroke-width="1.3"/>
<line x1="1037.4" y1="544.5" x2="1626.4" y2="544.5" stroke="#262626" stroke-width="1.3"/>
<line x1="1031.9" y1="202.6" x2="1037.4" y2="202.6" stroke="#262626" stroke-width="1.6"/>
<line x1="1626.4" y1="202.6" x2="1631.9" y2="202.6" stroke="#262626" stroke-width="1.6"/>
<text x="1020.0" y="216.1" font-size="35.3" text-anchor="end" stroke="#1a1a1a" stroke-width="0.55">40</text>
<line x1="1031.9" y1="399.8" x2="1037.4" y2="399.8" stroke="#262626" stroke-width="1.6"/>
<line x1="1626.4" y1="399.8" x2="1631.9" y2="399.8" stroke="#262626" stroke-width="1.6"/>
<text x="1020.0" y="413.3" font-size="35.3" text-anchor="end" stroke="#1a1a1a" stroke-width="0.55">39.8</text>
<line x1="140.3" y1="1279.3" x2="728.7" y2="1279.3" stroke="#262626" stroke-width="1.3"/>
<line x1="728.7" y1="750.0" x2="728.7" y2="1279.3" stroke="#262626" stroke-width="1.3"/>
<line x1="134.8" y1="937.0" x2="140.3" y2="937.0" stroke="#262626" stroke-width="1.6"/>
<line x1="728.7" y1="937.0" x2="734.2" y2="937.0" stroke="#262626" stroke-width="1.6"/>
<text x="122.7" y="950.5" font-size="35.3" text-anchor="end" stroke="#1a1a1a" stroke-width="0.55">40</text>
<line x1="134.8" y1="1134.3" x2="140.3" y2="1134.3" stroke="#262626" stroke-width="1.6"/>
<line x1="728.7" y1="1134.3" x2="734.2" y2="1134.3" stroke="#262626" stroke-width="1.6"/>
<text x="122.7" y="1147.8" font-size="35.3" text-anchor="end" stroke="#1a1a1a" stroke-width="0.55">39.8</text>
<line x1="212.3" y1="1279.3" x2="212.3" y2="1285.3" stroke="#262626" stroke-width="1.6"/>
<line x1="212.3" y1="744.0" x2="212.3" y2="750.0" stroke="#262626" stroke-width="1.6"/>
<text x="212.3" y="1329.5" font-size="35.3" text-anchor="middle" stroke="#1a1a1a" stroke-width="0.55">71</text>
<line x1="370.8" y1="1279.3" x2="370.8" y2="1285.3" stroke="#262626" stroke-width="1.6"/>
<line x1="370.8" y1="744.0" x2="370.8" y2="750.0" stroke="#262626" stroke-width="1.6"/>
<text x="370.8" y="1329.5" font-size="35.3" text-anchor="middle" stroke="#1a1a1a" stroke-width="0.55">70.6</text>
<line x1="529.3" y1="1279.3" x2="529.3" y2="1285.3" stroke="#262626" stroke-width="1.6"/>
<line x1="529.3" y1="744.0" x2="529.3" y2="750.0" stroke="#262626" stroke-width="1.6"/>
<text x="529.3" y="1329.5" font-size="35.3" text-anchor="middle" stroke="#1a1a1a" stroke-width="0.55">70.2</text>
<line x1="687.8" y1="1279.3" x2="687.8" y2="1285.3" stroke="#262626" stroke-width="1.6"/>
<line x1="687.8" y1="744.0" x2="687.8" y2="750.0" stroke="#262626" stroke-width="1.6"/>
<text x="687.8" y="1329.5" font-size="35.3" text-anchor="middle" stroke="#1a1a1a" stroke-width="0.55">69.8</text>
<line x1="1038.1" y1="1279.0" x2="1627.3" y2="1279.0" stroke="#262626" stroke-width="1.3"/>
<line x1="1627.3" y1="750.0" x2="1627.3" y2="1279.0" stroke="#262626" stroke-width="1.3"/>
<text x="1025.0" y="950.5" font-size="35.3" text-anchor="end" stroke="#1a1a1a" stroke-width="0.55">40</text>
<text x="1025.0" y="1147.8" font-size="35.3" text-anchor="end" stroke="#1a1a1a" stroke-width="0.55">39.8</text>
<text x="1105.0" y="1322.2" font-size="35.3" text-anchor="middle" stroke="#1a1a1a" stroke-width="0.55">71</text>
<text x="1257.5" y="1322.2" font-size="35.3" text-anchor="middle" stroke="#1a1a1a" stroke-width="0.55">70.6</text>
<text x="1410.0" y="1322.2" font-size="35.3" text-anchor="middle" stroke="#1a1a1a" stroke-width="0.55">70.2</text>
<text x="1562.5" y="1322.2" font-size="35.3" text-anchor="middle" stroke="#1a1a1a" stroke-width="0.55">69.8</text>
<text x="40.8" y="279.0" font-size="38" text-anchor="middle" stroke="#1a1a1a" stroke-width="0.55" transform="rotate(-90 40.8 279.0)">Latitude (<tspan font-size="30.4" dy="-18.6">o</tspan><tspan dy="18.6">N)</tspan></text>
<text x="40.8" y="1014.0" font-size="38" text-anchor="middle" stroke="#1a1a1a" stroke-width="0.55" transform="rotate(-90 40.8 1014.0)">Latitude (<tspan font-size="30.4" dy="-18.6">o</tspan><tspan dy="18.6">N)</tspan></text>
<text x="434.5" y="1386.0" font-size="38" text-anchor="middle" stroke="#1a1a1a" stroke-width="0.55">Longitude (<tspan font-size="30.4" dy="-18.6">o</tspan><tspan dy="18.6">W)</tspan></text>
<text x="1332.5" y="1379.3" font-size="38" text-anchor="middle" stroke="#1a1a1a" stroke-width="0.55">Longitude (<tspan font-size="30.4" dy="-18.6">o</tspan><tspan dy="18.6">W)</tspan></text>
<text x="211.2" y="481.2" font-size="34.5" text-anchor="middle" fill="#fff" stroke="#fff" stroke-width="0.55" letter-spacing="-3.7">(A)</text>
<text x="1128.9" y="481.2" font-size="34.5" text-anchor="middle" fill="#fff" stroke="#fff" stroke-width="0.55" letter-spacing="-3.7">(B)</text>
<text x="213.1" y="1177.8" font-size="34.5" text-anchor="middle" fill="#fff" stroke="#fff" stroke-width="0.55" letter-spacing="-3.7">(C)</text>
<text x="1129.2" y="1177.8" font-size="34.5" text-anchor="middle" fill="#fff" stroke="#fff" stroke-width="0.55" letter-spacing="-3.7">(D)</text>
<rect x="737.3" y="15.3" width="39.3" height="529.5" fill="url(#gA)" stroke="#262626" stroke-width="1.3"/>
<text x="785.8" y="27.3" font-size="31" text-anchor="start" stroke="#1a1a1a" stroke-width="0.55">1800</text>
<line x1="769.6" y1="103.5" x2="776.6" y2="103.5" stroke="#262626" stroke-width="1.3"/>
<text x="785.8" y="115.5" font-size="31" text-anchor="start" stroke="#1a1a1a" stroke-width="0.55">1750</text>
<line x1="769.6" y1="191.8" x2="776.6" y2="191.8" stroke="#262626" stroke-width="1.3"/>
<text x="785.8" y="203.8" font-size="31" text-anchor="start" stroke="#1a1a1a" stroke-width="0.55">1700</text>
<line x1="769.6" y1="280.1" x2="776.6" y2="280.1" stroke="#262626" stroke-width="1.3"/>
<text x="785.8" y="292.0" font-size="31" text-anchor="start" stroke="#1a1a1a" stroke-width="0.55">1650</text>
<line x1="769.6" y1="368.3" x2="776.6" y2="368.3" stroke="#262626" stroke-width="1.3"/>
<text x="785.8" y="380.3" font-size="31" text-anchor="start" stroke="#1a1a1a" stroke-width="0.55">1600</text>
<line x1="769.6" y1="456.6" x2="776.6" y2="456.6" stroke="#262626" stroke-width="1.3"/>
<text x="785.8" y="468.5" font-size="31" text-anchor="start" stroke="#1a1a1a" stroke-width="0.55">1550</text>
<text x="785.8" y="556.8" font-size="31" text-anchor="start" stroke="#1a1a1a" stroke-width="0.55">1500</text>
<text x="890.0" y="281.0" font-size="31.2" text-anchor="middle" stroke="#1a1a1a" stroke-width="0.55" transform="rotate(-90 890.0 281.0)">Compressional soundspeed (m/s)</text>
<rect x="1640.3" y="16.6" width="36.5" height="527.4" fill="url(#gB)" stroke="#262626" stroke-width="1.3"/>
<text x="1686.0" y="29.3" font-size="31" text-anchor="start" stroke="#1a1a1a" stroke-width="0.55">1</text>
<line x1="1669.8" y1="122.6" x2="1676.8" y2="122.6" stroke="#262626" stroke-width="1.3"/>
<text x="1686.0" y="134.6" font-size="31" text-anchor="start" stroke="#1a1a1a" stroke-width="0.55">0.8</text>
<line x1="1669.8" y1="227.9" x2="1676.8" y2="227.9" stroke="#262626" stroke-width="1.3"/>
<text x="1686.0" y="239.9" font-size="31" text-anchor="start" stroke="#1a1a1a" stroke-width="0.55">0.6</text>
<line x1="1669.8" y1="333.2" x2="1676.8" y2="333.2" stroke="#262626" stroke-width="1.3"/>
<text x="1686.0" y="345.2" font-size="31" text-anchor="start" stroke="#1a1a1a" stroke-width="0.55">0.4</text>
<line x1="1669.8" y1="438.5" x2="1676.8" y2="438.5" stroke="#262626" stroke-width="1.3"/>
<text x="1686.0" y="450.5" font-size="31" text-anchor="start" stroke="#1a1a1a" stroke-width="0.55">0.2</text>
<text x="1686.0" y="555.8" font-size="31" text-anchor="start" stroke="#1a1a1a" stroke-width="0.55">0</text>
<text x="1767.0" y="282.0" font-size="31.2" text-anchor="middle" stroke="#1a1a1a" stroke-width="0.55" transform="rotate(-90 1767.0 282.0)">seabed attenuation (dB/&#955;)</text>
<rect x="741.9" y="750.4" width="36.4" height="528.9" fill="url(#gC)" stroke="#262626" stroke-width="1.3"/>
<line x1="771.3" y1="846.3" x2="778.3" y2="846.3" stroke="#262626" stroke-width="1.3"/>
<text x="787.5" y="858.3" font-size="31" text-anchor="start" stroke="#1a1a1a" stroke-width="0.55">-500</text>
<line x1="771.3" y1="960.9" x2="778.3" y2="960.9" stroke="#262626" stroke-width="1.3"/>
<text x="787.5" y="972.9" font-size="31" text-anchor="start" stroke="#1a1a1a" stroke-width="0.55">-1000</text>
<line x1="771.3" y1="1075.5" x2="778.3" y2="1075.5" stroke="#262626" stroke-width="1.3"/>
<text x="787.5" y="1087.5" font-size="31" text-anchor="start" stroke="#1a1a1a" stroke-width="0.55">-1500</text>
<line x1="771.3" y1="1190.1" x2="778.3" y2="1190.1" stroke="#262626" stroke-width="1.3"/>
<text x="787.5" y="1202.1" font-size="31" text-anchor="start" stroke="#1a1a1a" stroke-width="0.55">-2000</text>
<text x="907.0" y="1014.0" font-size="31.2" text-anchor="middle" stroke="#1a1a1a" stroke-width="0.55" transform="rotate(-90 907.0 1014.0)">Depth (m)</text>
<rect x="1640.3" y="750.2" width="36.4" height="528.8" fill="url(#gD)" stroke="#262626" stroke-width="1.3"/>
<line x1="1669.7" y1="777.1" x2="1676.7" y2="777.1" stroke="#262626" stroke-width="1.3"/>
<text x="1685.9" y="789.1" font-size="31" text-anchor="start" stroke="#1a1a1a" stroke-width="0.55">1514</text>
<line x1="1669.7" y1="857.4" x2="1676.7" y2="857.4" stroke="#262626" stroke-width="1.3"/>
<text x="1685.9" y="869.3" font-size="31" text-anchor="start" stroke="#1a1a1a" stroke-width="0.55">1512</text>
<line x1="1669.7" y1="937.6" x2="1676.7" y2="937.6" stroke="#262626" stroke-width="1.3"/>
<text x="1685.9" y="949.6" font-size="31" text-anchor="start" stroke="#1a1a1a" stroke-width="0.55">1510</text>
<line x1="1669.7" y1="1017.9" x2="1676.7" y2="1017.9" stroke="#262626" stroke-width="1.3"/>
<text x="1685.9" y="1029.8" font-size="31" text-anchor="start" stroke="#1a1a1a" stroke-width="0.55">1508</text>
<line x1="1669.7" y1="1098.1" x2="1676.7" y2="1098.1" stroke="#262626" stroke-width="1.3"/>
<text x="1685.9" y="1110.1" font-size="31" text-anchor="start" stroke="#1a1a1a" stroke-width="0.55">1506</text>
<line x1="1669.7" y1="1178.3" x2="1676.7" y2="1178.3" stroke="#262626" stroke-width="1.3"/>
<text x="1685.9" y="1190.3" font-size="31" text-anchor="start" stroke="#1a1a1a" stroke-width="0.55">1504</text>
<line x1="1669.7" y1="1258.6" x2="1676.7" y2="1258.6" stroke="#262626" stroke-width="1.3"/>
<text x="1685.9" y="1270.6" font-size="31" text-anchor="start" stroke="#1a1a1a" stroke-width="0.55">1502</text>
<text x="1790.0" y="1012.0" font-size="31.2" text-anchor="middle" stroke="#1a1a1a" stroke-width="0.55" transform="rotate(-90 1790.0 1012.0)">Soundspeed (m/s)</text>
<rect x="1952.8" y="191.9" width="512.7" height="924.5" fill="#fff" stroke="#333" stroke-width="1.35"/>
<text x="1940.8" y="203.9" font-size="31" text-anchor="end" stroke="#1a1a1a" stroke-width="0.55">0</text>
<line x1="1952.8" y1="284.4" x2="1962.3" y2="284.4" stroke="#333" stroke-width="1.3"/>
<line x1="2456.0" y1="284.4" x2="2465.5" y2="284.4" stroke="#333" stroke-width="1.3"/>
<text x="1940.8" y="296.3" font-size="31" text-anchor="end" stroke="#1a1a1a" stroke-width="0.55">200</text>
<line x1="1952.8" y1="376.8" x2="1962.3" y2="376.8" stroke="#333" stroke-width="1.3"/>
<line x1="2456.0" y1="376.8" x2="2465.5" y2="376.8" stroke="#333" stroke-width="1.3"/>
<text x="1940.8" y="388.8" font-size="31" text-anchor="end" stroke="#1a1a1a" stroke-width="0.55">400</text>
<line x1="1952.8" y1="469.2" x2="1962.3" y2="469.2" stroke="#333" stroke-width="1.3"/>
<line x1="2456.0" y1="469.2" x2="2465.5" y2="469.2" stroke="#333" stroke-width="1.3"/>
<text x="1940.8" y="481.2" font-size="31" text-anchor="end" stroke="#1a1a1a" stroke-width="0.55">600</text>
<line x1="1952.8" y1="561.7" x2="1962.3" y2="561.7" stroke="#333" stroke-width="1.3"/>
<line x1="2456.0" y1="561.7" x2="2465.5" y2="561.7" stroke="#333" stroke-width="1.3"/>
<text x="1940.8" y="573.7" font-size="31" text-anchor="end" stroke="#1a1a1a" stroke-width="0.55">800</text>
<line x1="1952.8" y1="654.2" x2="1962.3" y2="654.2" stroke="#333" stroke-width="1.3"/>
<line x1="2456.0" y1="654.2" x2="2465.5" y2="654.2" stroke="#333" stroke-width="1.3"/>
<text x="1940.8" y="666.1" font-size="31" text-anchor="end" stroke="#1a1a1a" stroke-width="0.55">1000</text>
<line x1="1952.8" y1="746.6" x2="1962.3" y2="746.6" stroke="#333" stroke-width="1.3"/>
<line x1="2456.0" y1="746.6" x2="2465.5" y2="746.6" stroke="#333" stroke-width="1.3"/>
<text x="1940.8" y="758.6" font-size="31" text-anchor="end" stroke="#1a1a1a" stroke-width="0.55">1200</text>
<line x1="1952.8" y1="839.1" x2="1962.3" y2="839.1" stroke="#333" stroke-width="1.3"/>
<line x1="2456.0" y1="839.1" x2="2465.5" y2="839.1" stroke="#333" stroke-width="1.3"/>
<text x="1940.8" y="851.0" font-size="31" text-anchor="end" stroke="#1a1a1a" stroke-width="0.55">1400</text>
<line x1="1952.8" y1="931.5" x2="1962.3" y2="931.5" stroke="#333" stroke-width="1.3"/>
<line x1="2456.0" y1="931.5" x2="2465.5" y2="931.5" stroke="#333" stroke-width="1.3"/>
<text x="1940.8" y="943.5" font-size="31" text-anchor="end" stroke="#1a1a1a" stroke-width="0.55">1600</text>
<line x1="1952.8" y1="1024.0" x2="1962.3" y2="1024.0" stroke="#333" stroke-width="1.3"/>
<line x1="2456.0" y1="1024.0" x2="2465.5" y2="1024.0" stroke="#333" stroke-width="1.3"/>
<text x="1940.8" y="1035.9" font-size="31" text-anchor="end" stroke="#1a1a1a" stroke-width="0.55">1800</text>
<text x="1940.8" y="1128.4" font-size="31" text-anchor="end" stroke="#1a1a1a" stroke-width="0.55">2000</text>
<text x="1951.8" y="1156.1" font-size="31" text-anchor="middle" stroke="#1a1a1a" stroke-width="0.55">1480</text>
<line x1="2123.7" y1="1106.9" x2="2123.7" y2="1116.4" stroke="#333" stroke-width="1.3"/>
<line x1="2123.7" y1="191.9" x2="2123.7" y2="201.4" stroke="#333" stroke-width="1.3"/>
<text x="2122.7" y="1156.1" font-size="31" text-anchor="middle" stroke="#1a1a1a" stroke-width="0.55">1500</text>
<line x1="2294.6" y1="1106.9" x2="2294.6" y2="1116.4" stroke="#333" stroke-width="1.3"/>
<line x1="2294.6" y1="191.9" x2="2294.6" y2="201.4" stroke="#333" stroke-width="1.3"/>
<text x="2293.6" y="1156.1" font-size="31" text-anchor="middle" stroke="#1a1a1a" stroke-width="0.55">1520</text>
<text x="2464.5" y="1156.1" font-size="31" text-anchor="middle" stroke="#1a1a1a" stroke-width="0.55">1540</text>
<text x="2208.2" y="1198.3" font-size="34.4" text-anchor="middle" stroke="#1a1a1a" stroke-width="0.55">Sound speed (m/s)</text>
<text x="1857.8" y="654.4" font-size="33.8" text-anchor="middle" stroke="#1a1a1a" stroke-width="0.55" transform="rotate(-90 1857.8 654.4)">Depth (m)</text>
<text x="2356.0" y="1050.3" font-size="31" text-anchor="middle" fill="#000" stroke="#000" letter-spacing="-2.4" stroke-width="1">(E)</text>
<polyline fill="none" stroke="#0000ff" stroke-width="5.2" stroke-linejoin="round" stroke-linecap="butt" points="2378.7,192.8 2359.0,196.7 2331.4,200.7 2280.2,203.0 2240.8,207.0 2201.5,212.5 2170.0,218.0 2142.4,225.0 2126.6,234.5 2114.8,246.3 2106.9,259.7 2099.0,280.2 2083.3,301.5 2059.7,327.5 2036.0,348.8 2016.3,376.3 1994.3,409.4 1980.9,443.3 1974.6,478.7 1971.4,510.2 1971.4,540.2 1974.6,597.0 1983.2,663.9 1992.7,715.0 2000.6,750.5 2016.3,801.7 2040.0,896.3 2063.6,994.7 2087.2,1091.6"/>
</g></svg></body></html>
